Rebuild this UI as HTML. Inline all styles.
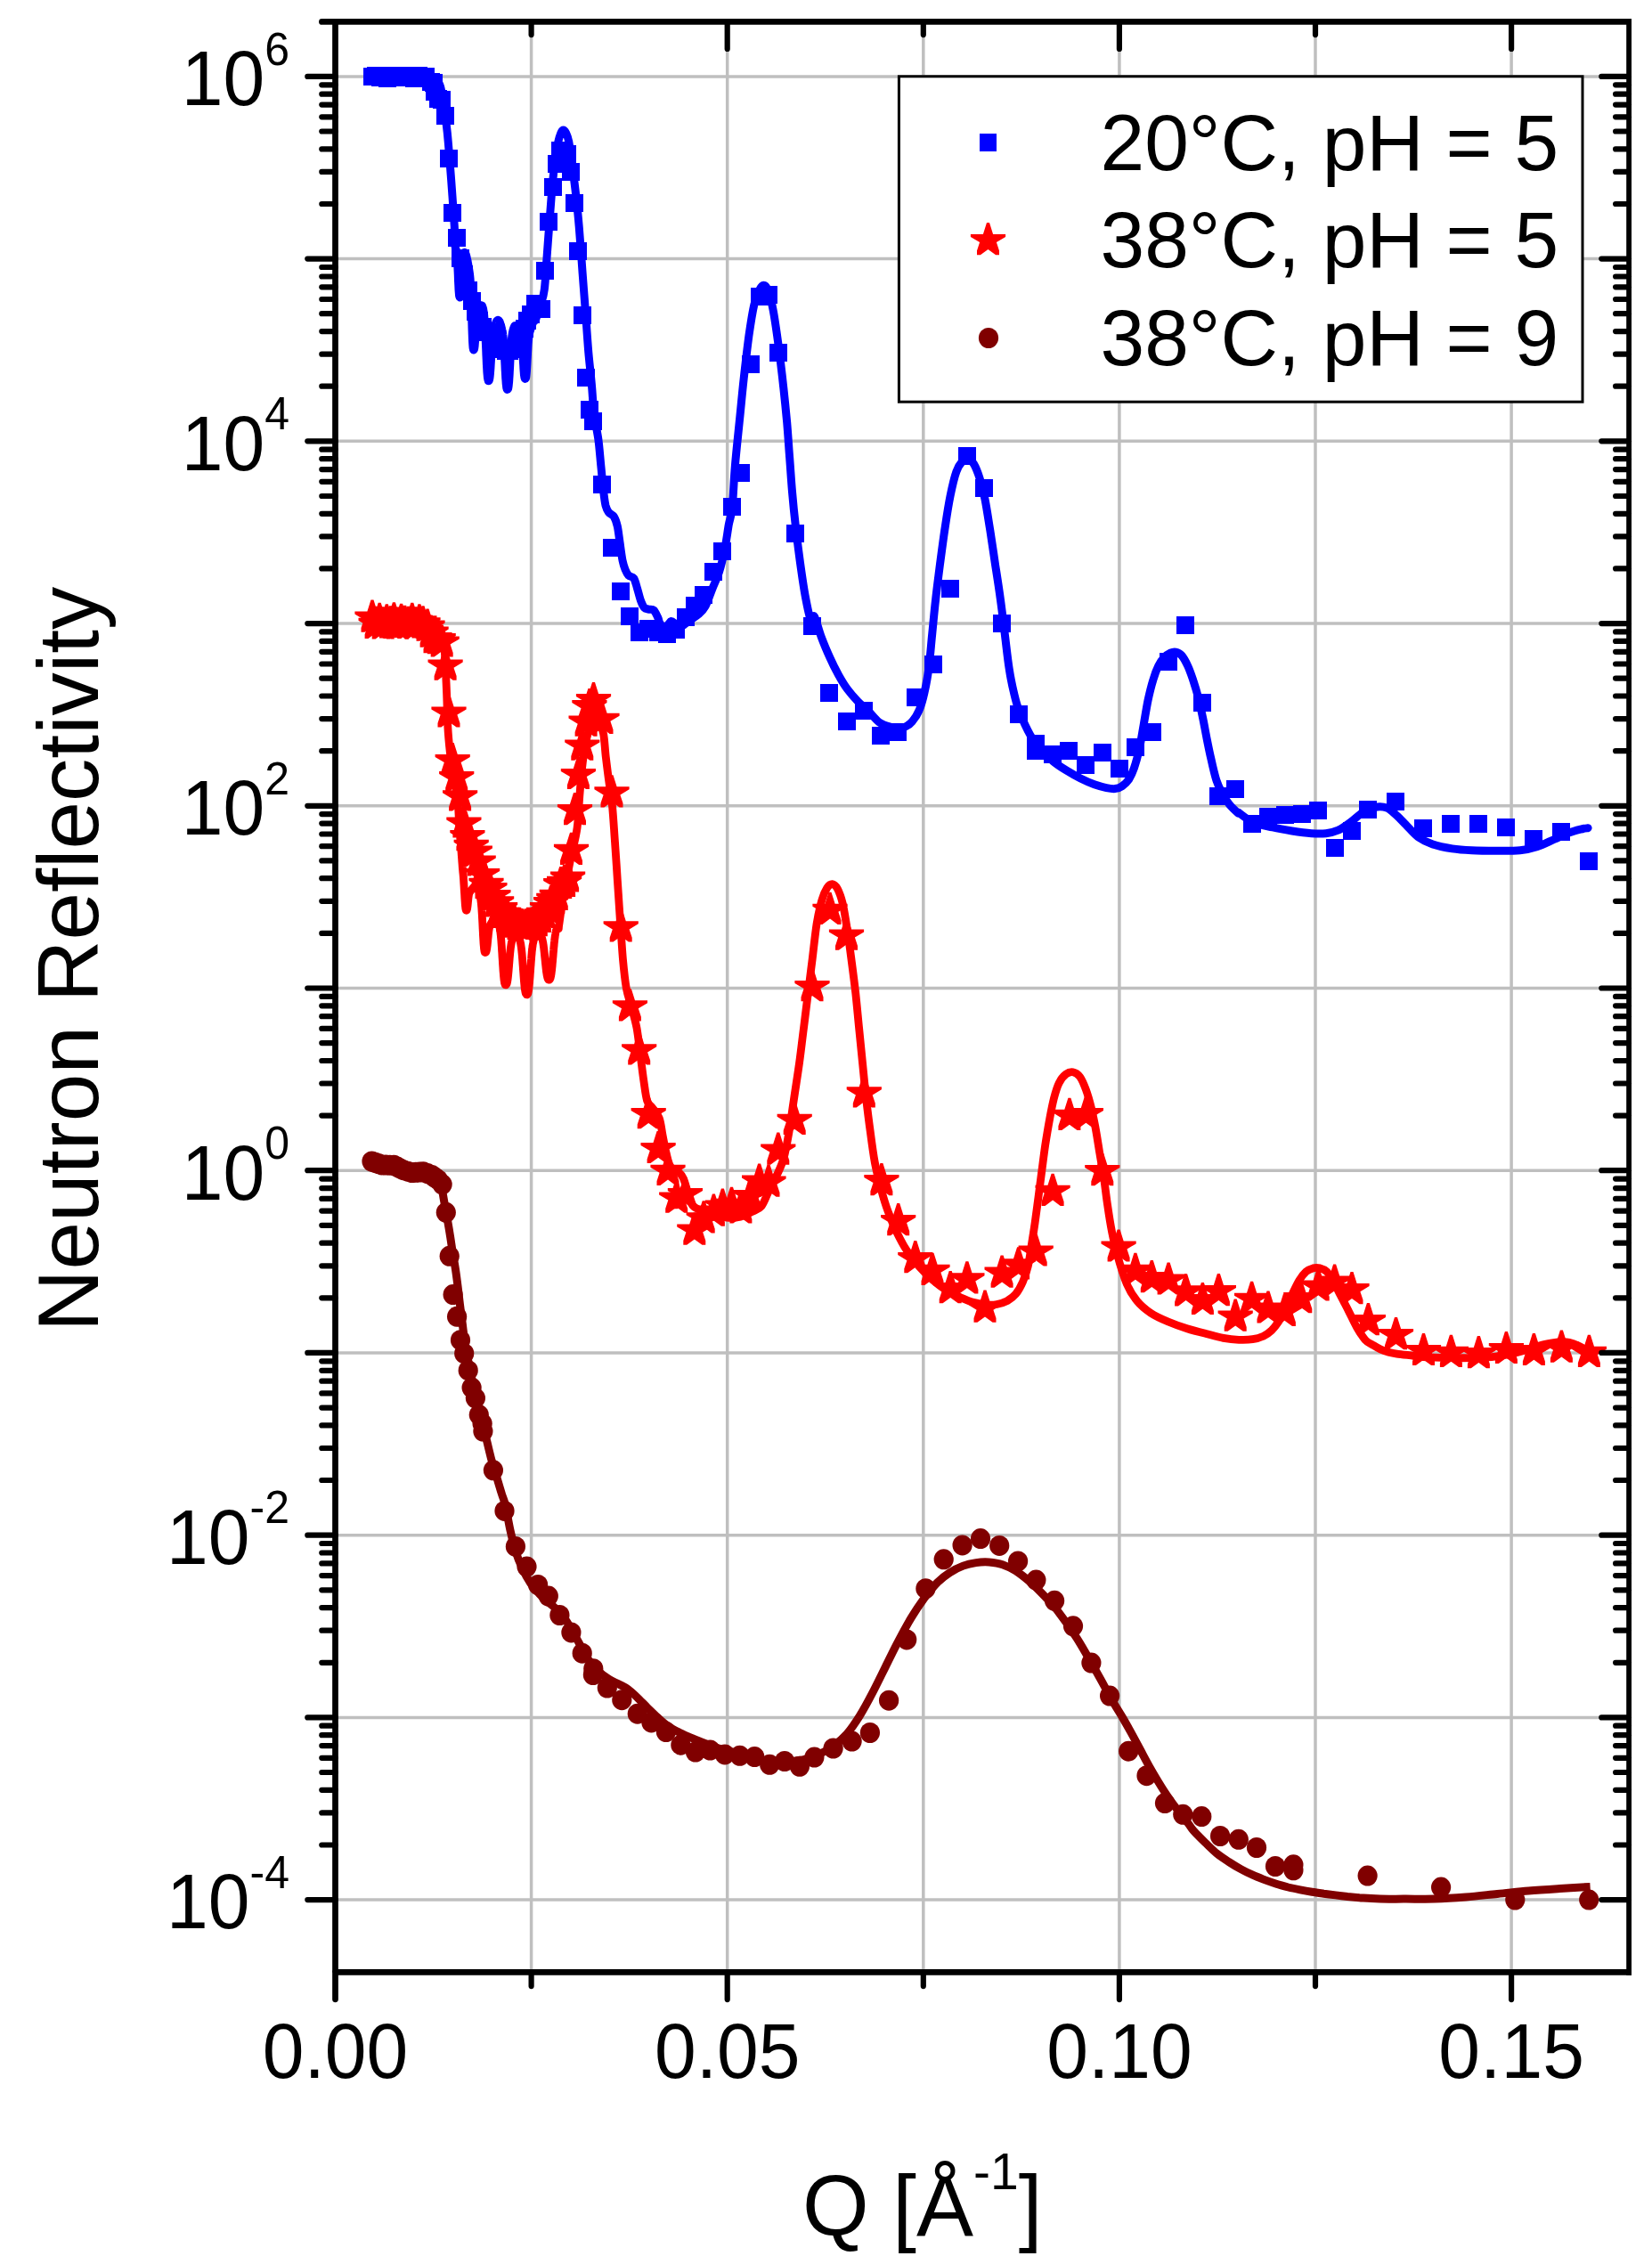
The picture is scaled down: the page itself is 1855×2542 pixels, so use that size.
<!DOCTYPE html>
<html lang="en"><head><meta charset="utf-8"><title>Neutron Reflectivity</title>
<style>html,body{margin:0;padding:0;background:#fff}body{width:1855px;height:2542px;overflow:hidden}svg{display:block}text{font-family:"Liberation Sans",Arial,Helvetica,sans-serif;fill:#000}</style></head><body>
<svg width="1855" height="2542" viewBox="0 0 1855 2542">
<rect width="1855" height="2542" fill="#fff"/>
<g stroke="#bfbfbf" stroke-width="3.5" fill="none">
<line x1="596.6" y1="24.4" x2="596.6" y2="2214.3"/>
<line x1="816.7" y1="24.4" x2="816.7" y2="2214.3"/>
<line x1="1036.8" y1="24.4" x2="1036.8" y2="2214.3"/>
<line x1="1256.9" y1="24.4" x2="1256.9" y2="2214.3"/>
<line x1="1477.0" y1="24.4" x2="1477.0" y2="2214.3"/>
<line x1="1697.1" y1="24.4" x2="1697.1" y2="2214.3"/>
<line x1="376.5" y1="85.9" x2="1829.0" y2="85.9"/>
<line x1="376.5" y1="290.6" x2="1829.0" y2="290.6"/>
<line x1="376.5" y1="495.3" x2="1829.0" y2="495.3"/>
<line x1="376.5" y1="700.1" x2="1829.0" y2="700.1"/>
<line x1="376.5" y1="904.8" x2="1829.0" y2="904.8"/>
<line x1="376.5" y1="1109.5" x2="1829.0" y2="1109.5"/>
<line x1="376.5" y1="1314.2" x2="1829.0" y2="1314.2"/>
<line x1="376.5" y1="1518.9" x2="1829.0" y2="1518.9"/>
<line x1="376.5" y1="1723.7" x2="1829.0" y2="1723.7"/>
<line x1="376.5" y1="1928.4" x2="1829.0" y2="1928.4"/>
<line x1="376.5" y1="2133.1" x2="1829.0" y2="2133.1"/>
</g>
<defs>
<rect id="sq" x="-10" y="-10" width="20" height="20" fill="#0000ff" shape-rendering="crispEdges"/>
<path id="st" d="M-1.5 -20.3L1.5 -20.3L5.6 -7.3L19.6 -7.3L19.6 -4.3L9.4 1.8L12.5 11.2L12.5 15.9L8.6 15.9L0.0 9.6L-8.6 15.9L-12.5 15.9L-12.5 11.2L-9.4 1.8L-19.6 -4.3L-19.6 -7.3L-5.6 -7.3Z" fill="#ff0000"/>
<ellipse id="ci" rx="11.1" ry="11.5" fill="#800000"/>
</defs>
<g>
<g><use href="#sq" x="418.0" y="86.3"/><use href="#sq" x="422.3" y="85.3"/><use href="#sq" x="426.6" y="87.3"/><use href="#sq" x="430.9" y="85.7"/><use href="#sq" x="435.2" y="87.5"/><use href="#sq" x="439.5" y="85.3"/><use href="#sq" x="443.8" y="87.1"/><use href="#sq" x="448.1" y="86.3"/><use href="#sq" x="452.4" y="85.3"/><use href="#sq" x="456.7" y="87.3"/><use href="#sq" x="461.0" y="85.7"/><use href="#sq" x="465.3" y="87.5"/><use href="#sq" x="469.6" y="85.3"/><use href="#sq" x="473.9" y="87.1"/><use href="#sq" x="478.2" y="86.3"/><use href="#sq" x="484.3" y="91.6"/><use href="#sq" x="487.3" y="92.5"/><use href="#sq" x="488.2" y="103.1"/><use href="#sq" x="492.3" y="111.1"/><use href="#sq" x="496.0" y="112.0"/><use href="#sq" x="500.1" y="129.7"/><use href="#sq" x="504.1" y="177.7"/><use href="#sq" x="508.1" y="238.9"/><use href="#sq" x="513.0" y="267.0"/><use href="#sq" x="517.0" y="289.7"/><use href="#sq" x="521.1" y="308.4"/><use href="#sq" x="525.5" y="326.1"/><use href="#sq" x="529.9" y="338.4"/><use href="#sq" x="534.0" y="349.8"/><use href="#sq" x="538.2" y="360.4"/><use href="#sq" x="542.4" y="367.4"/><use href="#sq" x="546.7" y="372.7"/><use href="#sq" x="550.9" y="378.9"/><use href="#sq" x="555.2" y="385.1"/><use href="#sq" x="559.4" y="389.0"/><use href="#sq" x="563.6" y="392.2"/><use href="#sq" x="567.9" y="393.6"/><use href="#sq" x="572.1" y="393.6"/><use href="#sq" x="576.4" y="392.2"/><use href="#sq" x="580.6" y="389.0"/><use href="#sq" x="584.8" y="380.7"/><use href="#sq" x="589.1" y="369.2"/><use href="#sq" x="592.3" y="360.4"/><use href="#sq" x="595.6" y="352.8"/><use href="#sq" x="600.6" y="341.4"/><use href="#sq" x="608.3" y="346.9"/><use href="#sq" x="612.2" y="303.5"/><use href="#sq" x="616.1" y="249.0"/><use href="#sq" x="621.1" y="210.0"/><use href="#sq" x="625.1" y="183.7"/><use href="#sq" x="629.4" y="169.0"/><use href="#sq" x="636.6" y="173.3"/><use href="#sq" x="640.8" y="193.0"/><use href="#sq" x="644.9" y="227.8"/><use href="#sq" x="649.0" y="282.1"/><use href="#sq" x="653.7" y="354.2"/><use href="#sq" x="657.8" y="424.0"/><use href="#sq" x="662.0" y="459.7"/><use href="#sq" x="666.0" y="473.3"/><use href="#sq" x="676.4" y="544.2"/><use href="#sq" x="686.8" y="615.0"/><use href="#sq" x="696.8" y="663.8"/><use href="#sq" x="707.0" y="692.0"/><use href="#sq" x="718.0" y="710.2"/><use href="#sq" x="728.0" y="706.1"/><use href="#sq" x="738.7" y="710.0"/><use href="#sq" x="749.4" y="711.5"/><use href="#sq" x="759.1" y="706.7"/><use href="#sq" x="769.9" y="692.7"/><use href="#sq" x="779.9" y="680.0"/><use href="#sq" x="790.3" y="667.7"/><use href="#sq" x="801.0" y="642.4"/><use href="#sq" x="811.4" y="619.0"/><use href="#sq" x="821.5" y="569.3"/><use href="#sq" x="832.2" y="530.6"/><use href="#sq" x="842.5" y="409.2"/><use href="#sq" x="852.6" y="333.4"/><use href="#sq" x="863.3" y="330.5"/><use href="#sq" x="873.6" y="396.0"/><use href="#sq" x="892.5" y="598.7"/><use href="#sq" x="911.5" y="702.7"/><use href="#sq" x="931.0" y="777.6"/><use href="#sq" x="951.0" y="809.5"/><use href="#sq" x="970.1" y="797.7"/><use href="#sq" x="989.4" y="825.7"/><use href="#sq" x="1007.8" y="821.8"/><use href="#sq" x="1028.2" y="783.3"/><use href="#sq" x="1047.7" y="746.0"/><use href="#sq" x="1066.5" y="660.9"/><use href="#sq" x="1085.9" y="511.9"/><use href="#sq" x="1105.0" y="547.8"/><use href="#sq" x="1125.0" y="700.4"/><use href="#sq" x="1143.8" y="801.7"/><use href="#sq" x="1163.1" y="835.1"/><use href="#sq" x="1163.1" y="842.9"/><use href="#sq" x="1181.8" y="846.7"/><use href="#sq" x="1200.2" y="842.9"/><use href="#sq" x="1219.1" y="859.4"/><use href="#sq" x="1237.9" y="844.8"/><use href="#sq" x="1256.6" y="862.9"/><use href="#sq" x="1275.4" y="839.0"/><use href="#sq" x="1294.3" y="821.9"/><use href="#sq" x="1312.2" y="742.8"/><use href="#sq" x="1331.0" y="702.0"/><use href="#sq" x="1349.7" y="788.8"/><use href="#sq" x="1368.3" y="893.8"/><use href="#sq" x="1387.0" y="885.5"/><use href="#sq" x="1406.0" y="925.1"/><use href="#sq" x="1423.8" y="916.6"/><use href="#sq" x="1443.2" y="914.5"/><use href="#sq" x="1461.7" y="913.9"/><use href="#sq" x="1480.2" y="910.1"/><use href="#sq" x="1499.0" y="951.5"/><use href="#sq" x="1517.6" y="933.0"/><use href="#sq" x="1535.8" y="909.0"/><use href="#sq" x="1566.6" y="899.5"/><use href="#sq" x="1597.9" y="930.3"/><use href="#sq" x="1628.7" y="924.8"/><use href="#sq" x="1660.0" y="924.8"/><use href="#sq" x="1690.5" y="928.9"/><use href="#sq" x="1721.9" y="941.7"/><use href="#sq" x="1753.2" y="933.8"/><use href="#sq" x="1784.0" y="967.0"/></g>
<path d="M418.0 86.0C421.7 86.0 433.0 86.0 440.0 86.0C447.0 86.0 453.7 86.0 460.0 86.0C466.3 86.0 473.7 85.8 478.0 86.0C482.3 86.2 483.8 86.3 486.0 87.0C488.2 87.7 489.6 88.3 491.0 90.0C492.4 91.7 493.5 93.7 494.5 97.0C495.5 100.3 495.7 101.4 497.0 110.0C498.3 118.6 500.6 133.1 502.2 148.3C503.8 163.6 505.2 183.7 506.6 201.3C507.9 219.0 509.6 242.8 510.3 254.3C510.8 265.9 510.6 266.7 510.8 270.6C510.9 274.5 511.1 276.6 511.3 278.0C511.4 279.4 511.6 278.7 511.8 279.2C511.9 279.6 512.1 280.0 512.3 280.7C512.4 281.4 512.6 282.0 512.8 283.4C512.9 284.7 513.1 286.4 513.3 288.8C513.4 291.1 513.6 294.1 513.8 297.4C513.9 300.8 514.1 305.0 514.3 308.8C514.4 312.6 514.6 317.0 514.8 320.3C514.9 323.6 515.1 326.6 515.3 328.7C515.4 330.8 515.6 332.0 515.8 332.9C515.9 333.8 516.1 333.9 516.3 334.0C516.5 334.1 516.8 334.0 517.0 333.3C517.2 332.7 517.3 331.9 517.5 330.3C517.6 328.8 517.8 326.6 518.0 324.0C518.1 321.4 518.3 318.0 518.5 314.8C518.6 311.5 518.8 307.7 519.0 304.5C519.1 301.2 519.3 298.0 519.5 295.5C519.6 293.0 519.8 291.0 520.0 289.4C520.1 287.8 520.3 286.7 520.5 285.9C520.6 285.0 520.8 284.5 521.0 284.0C521.1 283.6 521.3 283.4 521.5 283.4C521.7 283.3 521.9 283.4 522.1 283.5C522.3 283.7 522.4 283.9 522.6 284.2C522.8 284.5 522.9 284.9 523.1 285.3C523.3 285.7 523.4 286.3 523.6 286.8C523.8 287.4 523.9 288.0 524.1 288.7C524.3 289.4 524.4 290.1 524.6 290.9C524.8 291.6 524.9 292.5 525.1 293.3C525.3 294.2 525.4 295.1 525.6 296.0C525.8 296.9 525.9 297.9 526.1 298.8C526.3 299.8 526.4 300.8 526.6 301.8C526.8 302.8 526.9 303.7 527.1 304.9C527.3 306.0 527.4 307.0 527.6 308.5C527.8 310.0 527.9 311.5 528.1 313.9C528.3 316.3 528.4 319.2 528.6 323.0C528.8 326.9 528.9 331.8 529.1 337.1C529.3 342.4 529.4 348.8 529.6 354.6C529.8 360.3 529.9 366.6 530.1 371.5C530.3 376.4 530.4 380.8 530.6 384.0C530.8 387.2 530.9 389.2 531.1 390.7C531.3 392.1 531.4 392.4 531.6 392.7C531.8 393.0 532.1 392.9 532.3 392.5C532.5 392.1 532.7 391.6 532.8 390.5C533.0 389.4 533.2 387.9 533.3 385.9C533.5 384.0 533.7 381.4 533.8 378.8C534.0 376.2 534.2 373.1 534.3 370.4C534.5 367.7 534.7 364.9 534.8 362.7C535.0 360.5 535.2 358.6 535.3 357.1C535.5 355.6 535.7 354.6 535.8 353.6C536.0 352.7 536.2 352.0 536.3 351.4C536.5 350.7 536.7 350.2 536.8 349.7C537.0 349.1 537.2 348.7 537.3 348.2C537.5 347.7 537.7 347.2 537.8 346.8C538.0 346.3 538.2 345.9 538.3 345.5C538.5 345.2 538.7 344.8 538.8 344.5C539.0 344.2 539.2 343.9 539.3 343.7C539.5 343.4 539.7 343.2 539.8 343.1C540.0 342.9 540.2 342.8 540.3 342.7C540.5 342.7 540.5 342.6 540.7 342.7C540.8 342.7 541.0 342.8 541.2 343.0C541.3 343.2 541.5 343.5 541.7 343.8C541.8 344.2 542.0 344.7 542.2 345.3C542.3 345.9 542.5 346.5 542.7 347.3C542.8 348.2 543.0 349.1 543.2 350.2C543.3 351.4 543.5 352.7 543.7 354.4C543.8 356.1 544.0 358.1 544.2 360.5C544.3 363.0 544.5 365.8 544.7 369.0C544.8 372.3 545.0 376.0 545.2 379.9C545.3 383.7 545.5 388.0 545.7 392.0C545.8 396.0 546.0 400.2 546.2 403.8C546.3 407.5 546.5 411.0 546.7 413.9C546.8 416.8 547.0 419.2 547.2 421.1C547.3 423.1 547.5 424.4 547.7 425.4C547.8 426.5 548.0 426.9 548.2 427.3C548.3 427.7 548.5 427.7 548.6 427.7C548.8 427.7 549.0 427.7 549.1 427.4C549.3 427.1 549.5 426.8 549.6 426.0C549.8 425.3 550.0 424.3 550.1 422.8C550.3 421.4 550.5 419.5 550.6 417.4C550.8 415.2 551.0 412.6 551.1 409.8C551.3 407.1 551.5 404.0 551.6 401.0C551.8 398.1 552.0 394.9 552.1 392.1C552.3 389.4 552.5 386.6 552.6 384.4C552.8 382.1 553.0 380.1 553.1 378.4C553.3 376.6 553.5 375.3 553.6 374.1C553.8 372.9 554.0 372.0 554.1 371.2C554.3 370.3 554.5 369.6 554.6 369.0C554.8 368.3 555.0 367.7 555.1 367.1C555.3 366.6 555.5 366.0 555.6 365.5C555.8 365.0 556.0 364.5 556.1 364.0C556.3 363.5 556.5 363.1 556.6 362.7C556.8 362.3 557.0 361.9 557.1 361.5C557.3 361.2 557.5 360.9 557.6 360.6C557.8 360.3 558.0 360.1 558.1 359.9C558.3 359.7 558.5 359.6 558.6 359.5C558.8 359.4 558.9 359.3 559.1 359.3C559.3 359.3 559.5 359.3 559.7 359.4C559.9 359.5 560.1 359.7 560.2 359.9C560.4 360.1 560.6 360.3 560.7 360.6C560.9 360.9 561.1 361.2 561.2 361.6C561.4 362.0 561.6 362.4 561.7 362.9C561.9 363.3 562.1 363.8 562.2 364.3C562.4 364.9 562.6 365.4 562.7 366.0C562.9 366.6 563.1 367.2 563.2 367.9C563.4 368.5 563.6 369.2 563.7 369.9C563.9 370.6 564.1 371.4 564.2 372.3C564.4 373.2 564.6 374.2 564.7 375.4C564.9 376.7 565.1 378.1 565.2 379.9C565.4 381.8 565.6 383.9 565.7 386.4C565.9 388.8 566.1 391.8 566.2 394.9C566.4 398.0 566.6 401.5 566.7 404.9C566.9 408.2 567.1 411.9 567.2 415.1C567.4 418.3 567.6 421.5 567.7 424.1C567.9 426.7 568.1 429.0 568.2 430.8C568.4 432.6 568.6 433.9 568.7 435.0C568.9 436.0 569.1 436.5 569.2 436.9C569.4 437.3 569.5 437.4 569.7 437.4C569.9 437.4 570.1 437.4 570.3 437.0C570.5 436.7 570.7 436.3 570.8 435.4C571.0 434.5 571.2 433.4 571.3 431.8C571.5 430.1 571.7 428.1 571.8 425.7C572.0 423.2 572.2 420.3 572.3 417.3C572.5 414.3 572.7 410.8 572.8 407.5C573.0 404.2 573.2 400.7 573.3 397.6C573.5 394.5 573.7 391.5 573.8 389.0C574.0 386.4 574.2 384.1 574.3 382.2C574.5 380.3 574.7 378.7 574.8 377.4C575.0 376.0 575.2 375.0 575.3 374.0C575.5 373.0 575.7 372.3 575.8 371.5C576.0 370.8 576.2 370.2 576.3 369.6C576.5 369.0 576.7 368.5 576.8 368.1C577.0 367.6 577.2 367.2 577.3 366.9C577.5 366.5 577.7 366.2 577.8 366.0C578.0 365.8 578.2 365.7 578.3 365.6C578.5 365.5 578.5 365.5 578.7 365.5C578.8 365.5 579.0 365.5 579.2 365.6C579.3 365.7 579.5 365.8 579.7 365.9C579.8 366.0 580.0 366.2 580.2 366.4C580.3 366.6 580.5 366.8 580.7 367.1C580.8 367.4 581.0 367.7 581.2 368.0C581.3 368.3 581.5 368.6 581.7 369.0C581.8 369.4 582.0 369.8 582.2 370.2C582.3 370.6 582.5 371.0 582.7 371.5C582.8 371.9 583.0 372.4 583.2 372.9C583.3 373.3 583.5 373.8 583.7 374.3C583.8 374.8 584.0 375.3 584.2 375.8C584.3 376.3 584.5 376.8 584.7 377.3C584.8 377.9 585.0 378.4 585.2 379.2C585.3 379.9 585.5 380.6 585.7 381.8C585.8 382.9 586.0 384.3 586.2 386.1C586.3 387.9 586.5 390.1 586.7 392.6C586.8 395.1 587.0 398.1 587.2 401.0C587.3 403.9 587.5 407.2 587.7 409.9C587.8 412.7 588.0 415.4 588.2 417.5C588.3 419.5 588.5 421.2 588.7 422.4C588.8 423.6 589.0 424.3 589.2 424.8C589.3 425.3 589.5 425.3 589.7 425.4C589.8 425.4 590.1 425.4 590.3 425.0C590.5 424.6 590.6 424.2 590.8 423.1C591.0 422.0 591.1 420.5 591.3 418.4C591.5 416.4 591.6 413.7 591.8 410.8C592.0 407.9 592.1 404.4 592.3 401.2C592.5 398.0 592.6 394.5 592.8 391.6C593.0 388.6 593.1 385.9 593.3 383.8C593.5 381.6 593.6 379.9 593.8 378.5C594.0 377.1 594.1 376.2 594.3 375.3C594.5 374.5 594.6 373.9 594.8 373.3C595.0 372.6 595.1 372.1 595.3 371.6C595.5 371.1 595.6 370.5 595.8 370.0C596.0 369.5 596.1 369.0 596.3 368.5C596.5 368.0 596.6 367.5 596.8 367.0C597.0 366.5 597.1 366.0 597.3 365.5C597.5 365.0 597.6 364.6 597.8 364.1C598.0 363.7 598.1 363.3 598.3 362.9C598.5 362.5 598.6 362.1 598.8 361.7C599.0 361.4 599.1 361.1 599.3 360.8C599.5 360.5 599.6 360.2 599.8 359.9C600.0 359.7 600.1 359.5 600.3 359.3C600.5 359.1 600.6 359.0 600.8 358.9C601.0 358.8 601.1 358.7 601.3 358.6C601.4 358.6 601.3 361.2 601.6 358.6C602.6 355.9 605.3 348.3 606.9 342.7C608.5 337.1 610.2 333.9 611.3 325.0C612.5 316.2 613.1 301.5 614.0 289.7C614.9 277.9 615.8 266.1 616.6 254.3C617.5 242.6 618.3 230.8 619.3 219.0C620.3 207.2 621.6 193.7 622.8 183.7C624.1 173.7 625.7 164.7 626.9 158.9C628.1 153.2 629.0 151.4 629.9 149.2C630.8 147.1 631.6 146.0 632.5 146.0C633.5 146.0 634.5 147.1 635.5 149.2C636.6 151.4 637.6 153.2 638.7 158.9C639.8 164.7 640.9 173.7 642.3 183.7C643.6 193.7 645.4 207.2 646.7 219.0C648.0 230.8 649.2 242.6 650.2 254.3C651.2 266.1 652.0 277.9 652.9 289.7C653.7 301.5 654.6 313.2 655.5 325.0C656.4 336.8 657.3 348.6 658.2 360.4C659.0 372.1 659.8 383.9 660.8 395.7C661.8 407.5 663.3 419.5 664.3 431.0C665.4 442.5 665.8 454.1 667.0 464.6C668.3 475.0 670.6 484.0 671.9 493.7C673.2 503.4 673.8 513.2 674.8 522.9C675.8 532.6 676.8 544.6 677.7 552.0C678.6 559.5 679.1 563.7 680.0 567.6C681.0 571.4 682.0 573.2 683.5 575.3C685.1 577.4 687.8 577.6 689.4 580.2C691.0 582.8 692.1 585.8 693.3 590.9C694.4 595.9 695.2 603.8 696.2 610.3C697.1 616.8 698.1 624.9 699.1 629.7C700.1 634.6 700.9 636.7 702.0 639.4C703.1 642.2 704.3 644.6 705.9 646.2C707.5 647.9 710.1 646.7 711.7 649.2C713.3 651.6 714.3 656.6 715.6 660.8C716.9 665.0 718.2 670.9 719.5 674.4C720.8 678.0 721.9 680.6 723.4 682.2C724.8 683.8 726.5 683.6 728.2 684.1C730.0 684.6 732.3 683.5 734.1 685.1C735.8 686.7 737.8 691.5 738.9 693.8C740.0 696.1 739.5 697.0 740.6 698.9C741.7 700.8 744.0 704.8 745.5 705.3C747.0 705.8 748.4 703.2 749.8 701.8C751.1 700.5 752.3 697.6 753.6 697.4C755.0 697.1 756.6 699.1 758.1 700.3C759.7 701.4 761.2 704.1 763.0 704.2C764.8 704.3 766.7 702.3 768.8 700.9C770.9 699.4 773.0 697.5 775.6 695.6C778.2 693.8 781.6 692.3 784.3 689.8C787.1 687.3 789.5 685.3 792.1 680.5C794.7 675.7 797.3 667.5 799.9 661.0C802.5 654.6 805.4 648.7 807.7 641.6C809.9 634.5 811.7 627.0 813.5 618.3C815.3 609.5 816.9 597.2 818.3 589.1C819.8 581.0 821.1 580.8 822.2 569.7C823.4 558.7 824.0 538.8 825.4 522.9C826.7 507.0 828.6 490.5 830.2 474.3C831.9 458.1 833.3 441.9 835.1 425.7C836.9 409.5 839.0 391.1 840.9 377.1C842.9 363.2 844.8 350.8 846.8 342.2C848.7 333.6 850.8 329.3 852.6 325.7C854.4 322.0 855.8 320.2 857.4 320.2C859.1 320.2 860.5 321.0 862.3 325.7C864.1 330.3 866.2 337.8 868.1 348.0C870.1 358.2 872.0 372.3 874.0 386.9C875.9 401.4 878.2 420.9 879.8 435.4C881.4 450.0 882.5 461.3 883.7 474.3C884.8 487.2 885.6 500.2 886.6 513.2C887.6 526.1 888.4 539.1 889.5 552.0C890.6 565.0 891.9 577.9 893.4 590.9C894.8 603.8 896.5 616.8 898.2 629.7C900.0 642.7 902.0 657.3 904.1 668.6C906.2 679.9 909.1 693.8 910.9 697.7C912.6 701.7 912.6 689.2 914.5 692.1C916.4 695.1 919.4 707.7 922.3 715.4C925.2 723.2 928.8 731.6 932.0 738.7C935.2 745.9 938.5 752.3 941.7 758.2C945.0 764.0 947.9 768.9 951.4 773.7C955.0 778.6 959.2 783.3 963.1 787.3C967.0 791.4 970.7 794.0 974.8 798.0C978.8 802.0 983.1 808.0 987.4 811.1C991.8 814.2 997.5 815.5 1001.0 816.5C1004.6 817.6 1006.2 817.4 1008.8 817.3C1011.4 817.2 1014.0 817.2 1016.6 816.0C1019.2 814.8 1021.8 813.2 1024.3 810.1C1026.9 807.1 1029.9 802.8 1032.1 797.5C1034.4 792.2 1036.2 785.8 1037.9 778.1C1039.7 770.3 1041.3 761.9 1042.8 750.9C1044.3 739.9 1045.4 725.0 1046.7 712.0C1048.0 699.1 1049.1 686.1 1050.6 673.2C1052.0 660.2 1053.7 647.9 1055.4 634.3C1057.2 620.7 1059.3 604.5 1061.3 591.5C1063.2 578.6 1065.0 566.9 1067.1 556.6C1069.2 546.2 1071.6 535.9 1073.9 529.4C1076.2 522.9 1078.6 520.1 1080.7 517.7C1082.8 515.3 1084.4 514.3 1086.5 514.8C1088.6 515.3 1091.1 516.9 1093.3 520.6C1095.6 524.4 1098.0 530.5 1100.1 537.1C1102.2 543.8 1104.0 550.7 1106.0 560.5C1107.9 570.2 1109.8 583.1 1111.8 595.4C1113.7 607.7 1115.7 621.3 1117.6 634.3C1119.6 647.2 1121.7 660.2 1123.4 673.2C1125.2 686.1 1126.7 699.1 1128.3 712.0C1129.9 725.0 1131.4 739.5 1133.2 750.9C1134.9 762.2 1137.0 771.9 1139.0 780.0C1140.9 788.1 1141.8 791.9 1144.8 799.4C1147.8 807.0 1153.0 818.5 1156.9 825.4C1160.9 832.3 1164.4 836.1 1168.6 840.9C1172.8 845.8 1177.3 850.5 1182.2 854.5C1187.0 858.6 1192.5 862.0 1197.7 865.2C1202.9 868.4 1208.1 871.4 1213.3 874.0C1218.4 876.5 1223.9 879.0 1228.8 880.8C1233.7 882.5 1238.5 883.8 1242.4 884.6C1246.3 885.4 1249.2 885.9 1252.1 885.6C1255.0 885.3 1257.3 884.5 1259.9 882.7C1262.5 880.9 1265.4 878.3 1267.7 874.9C1269.9 871.5 1271.5 868.0 1273.5 862.3C1275.4 856.6 1277.5 849.0 1279.3 840.9C1281.1 832.8 1282.6 822.8 1284.2 813.7C1285.8 804.7 1287.3 794.9 1289.0 786.5C1290.8 778.1 1292.9 769.7 1294.9 763.2C1296.8 756.7 1298.6 751.9 1300.7 747.7C1302.8 743.5 1305.2 740.4 1307.5 737.9C1309.8 735.5 1312.2 734.1 1314.3 733.1C1316.4 732.1 1318.0 731.6 1320.1 732.1C1322.2 732.6 1324.7 733.4 1326.9 736.0C1329.2 738.6 1331.6 743.1 1333.7 747.7C1335.8 752.2 1337.6 757.4 1339.6 763.2C1341.5 769.0 1343.6 775.8 1345.4 782.6C1347.2 789.4 1348.6 796.2 1350.2 804.0C1351.9 811.8 1353.5 821.2 1355.1 829.3C1356.7 837.4 1358.2 844.8 1360.0 852.6C1361.7 860.4 1363.7 869.4 1365.8 875.9C1367.9 882.4 1370.2 886.9 1372.6 891.4C1375.0 896.0 1377.4 899.5 1380.4 903.1C1383.3 906.7 1388.3 911.2 1390.1 912.8C1390.9 914.4 1390.1 910.8 1390.9 912.5C1393.8 914.3 1400.9 920.7 1407.2 923.4C1413.6 926.2 1421.8 927.3 1429.0 928.9C1436.3 930.5 1443.6 931.8 1450.8 933.0C1458.1 934.1 1466.3 935.2 1472.6 935.7C1479.0 936.2 1484.0 936.3 1489.0 935.7C1494.0 935.1 1498.0 934.2 1502.6 932.2C1507.1 930.1 1511.7 926.7 1516.2 923.4C1520.7 920.2 1525.3 915.4 1529.8 912.5C1534.4 909.7 1538.9 907.5 1543.4 906.5C1548.0 905.6 1553.0 905.6 1557.1 907.1C1561.1 908.5 1564.3 912.1 1568.0 915.3C1571.6 918.4 1574.8 922.1 1578.8 926.2C1582.9 930.2 1587.5 936.2 1592.5 939.8C1597.5 943.4 1602.5 945.8 1608.8 948.0C1615.2 950.1 1623.3 951.7 1630.6 952.9C1637.9 954.0 1644.2 954.4 1652.4 954.8C1660.6 955.2 1670.6 955.3 1679.6 955.3C1688.7 955.3 1699.2 955.5 1706.9 954.8C1714.6 954.0 1719.6 952.7 1725.9 950.7C1732.3 948.6 1739.1 945.1 1745.0 942.5C1750.9 939.9 1756.4 937.1 1761.4 935.2C1766.3 933.2 1771.3 932.0 1775.0 931.1C1778.6 930.2 1781.8 929.9 1783.1 929.7" fill="none" stroke="#0000ff" stroke-width="9.0" stroke-linejoin="round" stroke-linecap="round"/>
</g>
<g>
<g><use href="#st" x="418.0" y="693.9"/><use href="#st" x="422.1" y="701.0"/><use href="#st" x="426.2" y="697.0"/><use href="#st" x="430.2" y="701.5"/><use href="#st" x="434.3" y="698.5"/><use href="#st" x="438.4" y="700.5"/><use href="#st" x="442.4" y="696.5"/><use href="#st" x="446.5" y="701.7"/><use href="#st" x="450.6" y="698.0"/><use href="#st" x="454.7" y="700.0"/><use href="#st" x="458.7" y="701.0"/><use href="#st" x="462.8" y="697.0"/><use href="#st" x="466.9" y="701.5"/><use href="#st" x="470.9" y="698.5"/><use href="#st" x="475.0" y="700.5"/><use href="#st" x="480.0" y="703.9"/><use href="#st" x="484.1" y="710.9"/><use href="#st" x="488.0" y="717.4"/><use href="#st" x="492.2" y="718.4"/><use href="#st" x="496.2" y="721.7"/><use href="#st" x="500.1" y="747.9"/><use href="#st" x="504.0" y="800.7"/><use href="#st" x="508.2" y="854.2"/><use href="#st" x="512.7" y="873.2"/><use href="#st" x="516.6" y="894.6"/><use href="#st" x="520.9" y="924.7"/><use href="#st" x="524.9" y="939.3"/><use href="#st" x="529.2" y="950.1"/><use href="#st" x="533.3" y="956.8"/><use href="#st" x="537.2" y="967.7"/><use href="#st" x="541.6" y="982.2"/><use href="#st" x="546.0" y="993.1"/><use href="#st" x="549.9" y="998.2"/><use href="#st" x="553.9" y="1006.2"/><use href="#st" x="557.6" y="1013.5"/><use href="#st" x="561.6" y="1020.2"/><use href="#st" x="565.7" y="1026.0"/><use href="#st" x="569.8" y="1030.3"/><use href="#st" x="573.8" y="1034.0"/><use href="#st" x="577.9" y="1036.9"/><use href="#st" x="582.0" y="1039.0"/><use href="#st" x="586.1" y="1040.2"/><use href="#st" x="590.1" y="1040.5"/><use href="#st" x="594.2" y="1039.8"/><use href="#st" x="598.3" y="1038.3"/><use href="#st" x="602.3" y="1035.4"/><use href="#st" x="606.4" y="1031.1"/><use href="#st" x="610.5" y="1026.0"/><use href="#st" x="614.5" y="1020.2"/><use href="#st" x="618.6" y="1014.3"/><use href="#st" x="621.8" y="1010.0"/><use href="#st" x="625.3" y="1006.1"/><use href="#st" x="629.7" y="993.2"/><use href="#st" x="633.6" y="991.0"/><use href="#st" x="637.6" y="985.7"/><use href="#st" x="641.5" y="955.1"/><use href="#st" x="645.5" y="910.3"/><use href="#st" x="649.4" y="870.2"/><use href="#st" x="653.8" y="837.8"/><use href="#st" x="658.1" y="810.9"/><use href="#st" x="661.9" y="793.4"/><use href="#st" x="666.5" y="786.4"/><use href="#st" x="676.0" y="808.0"/><use href="#st" x="687.0" y="890.6"/><use href="#st" x="697.2" y="1041.6"/><use href="#st" x="707.4" y="1130.5"/><use href="#st" x="717.7" y="1179.6"/><use href="#st" x="728.2" y="1251.3"/><use href="#st" x="739.1" y="1290.2"/><use href="#st" x="750.0" y="1315.0"/><use href="#st" x="759.7" y="1345.8"/><use href="#st" x="769.4" y="1341.3"/><use href="#st" x="779.8" y="1381.8"/><use href="#st" x="790.2" y="1368.5"/><use href="#st" x="801.4" y="1360.8"/><use href="#st" x="811.4" y="1354.8"/><use href="#st" x="821.5" y="1353.0"/><use href="#st" x="831.9" y="1357.7"/><use href="#st" x="842.3" y="1343.2"/><use href="#st" x="852.6" y="1326.9"/><use href="#st" x="863.0" y="1327.9"/><use href="#st" x="873.8" y="1291.8"/><use href="#st" x="892.2" y="1258.1"/><use href="#st" x="912.0" y="1108.3"/><use href="#st" x="932.0" y="1022.0"/><use href="#st" x="950.5" y="1050.8"/><use href="#st" x="970.3" y="1227.6"/><use href="#st" x="989.9" y="1326.3"/><use href="#st" x="1008.7" y="1371.3"/><use href="#st" x="1027.8" y="1413.4"/><use href="#st" x="1047.0" y="1427.0"/><use href="#st" x="1067.2" y="1447.4"/><use href="#st" x="1085.9" y="1436.6"/><use href="#st" x="1106.0" y="1468.9"/><use href="#st" x="1125.1" y="1429.9"/><use href="#st" x="1143.6" y="1420.6"/><use href="#st" x="1163.2" y="1405.7"/><use href="#st" x="1182.1" y="1338.0"/><use href="#st" x="1200.9" y="1253.1"/><use href="#st" x="1219.4" y="1251.2"/><use href="#st" x="1237.8" y="1315.3"/><use href="#st" x="1256.1" y="1400.7"/><use href="#st" x="1274.9" y="1427.1"/><use href="#st" x="1293.3" y="1435.4"/><use href="#st" x="1312.1" y="1437.7"/><use href="#st" x="1331.6" y="1450.5"/><use href="#st" x="1350.4" y="1460.2"/><use href="#st" x="1368.4" y="1450.3"/><use href="#st" x="1387.2" y="1478.8"/><use href="#st" x="1405.6" y="1459.0"/><use href="#st" x="1424.0" y="1469.7"/><use href="#st" x="1442.4" y="1473.2"/><use href="#st" x="1460.8" y="1458.3"/><use href="#st" x="1480.2" y="1444.7"/><use href="#st" x="1498.6" y="1439.7"/><use href="#st" x="1518.0" y="1448.4"/><use href="#st" x="1536.4" y="1483.3"/><use href="#st" x="1567.5" y="1499.3"/><use href="#st" x="1598.5" y="1517.2"/><use href="#st" x="1629.4" y="1519.1"/><use href="#st" x="1660.4" y="1520.4"/><use href="#st" x="1691.4" y="1515.2"/><use href="#st" x="1722.4" y="1517.2"/><use href="#st" x="1753.4" y="1513.9"/><use href="#st" x="1784.4" y="1519.1"/></g>
<path d="M418.0 699.8C421.7 699.8 433.0 699.8 440.0 699.8C447.0 699.8 453.7 699.8 460.0 699.8C466.3 699.8 473.5 699.7 478.0 700.0C482.5 700.3 484.5 700.5 487.0 701.5C489.5 702.5 491.3 703.6 493.0 706.0C494.7 708.4 495.9 711.2 497.0 716.0C498.1 720.8 498.8 724.9 499.5 735.0C500.2 745.1 500.9 763.2 501.5 776.6C502.1 790.0 502.2 804.1 502.8 815.4C503.4 826.7 504.3 835.5 505.3 844.6C506.3 853.7 507.6 861.9 509.0 870.0C510.4 878.1 512.3 882.7 513.5 893.0C514.7 903.3 515.4 923.0 516.0 932.0C516.6 941.0 517.0 943.5 517.3 947.2C517.6 950.8 517.7 951.6 517.8 953.8C518.0 956.1 518.2 958.3 518.3 960.5C518.5 962.7 518.7 964.9 518.8 967.2C519.0 969.4 519.2 971.8 519.3 973.8C519.5 975.9 519.7 977.5 519.8 979.3C520.0 981.1 520.2 982.5 520.3 984.6C520.5 986.6 520.7 989.1 520.8 991.7C521.0 994.3 521.2 997.2 521.3 1000.0C521.5 1002.7 521.7 1005.6 521.8 1008.2C522.0 1010.8 522.2 1013.6 522.3 1015.6C522.5 1017.6 522.7 1019.1 522.8 1020.2C523.0 1021.2 523.1 1021.7 523.3 1022.0C523.5 1022.3 523.9 1022.4 524.1 1022.1C524.3 1021.9 524.4 1021.4 524.6 1020.5C524.8 1019.6 524.9 1018.3 525.1 1016.8C525.3 1015.4 525.4 1013.4 525.6 1011.7C525.8 1010.1 525.9 1008.3 526.1 1007.0C526.3 1005.8 526.4 1004.8 526.6 1004.0C526.8 1003.3 526.9 1002.9 527.1 1002.5C527.3 1002.1 527.4 1001.9 527.6 1001.6C527.8 1001.4 527.9 1001.2 528.1 1000.9C528.3 1000.7 528.4 1000.5 528.6 1000.2C528.8 1000.0 528.9 999.7 529.1 999.5C529.3 999.3 529.4 999.0 529.6 998.8C529.8 998.6 529.9 998.3 530.1 998.1C530.3 997.9 530.4 997.7 530.6 997.5C530.8 997.3 530.9 997.1 531.1 996.9C531.3 996.7 531.4 996.5 531.6 996.4C531.8 996.2 531.9 996.0 532.1 995.9C532.3 995.8 532.4 995.7 532.6 995.6C532.8 995.5 532.9 995.4 533.1 995.3C533.3 995.2 533.4 995.2 533.6 995.2C533.7 995.1 533.9 995.1 534.0 995.1C534.2 995.1 534.4 995.2 534.5 995.2C534.7 995.3 534.9 995.5 535.0 995.6C535.2 995.8 535.4 996.0 535.5 996.3C535.7 996.6 535.9 996.9 536.0 997.2C536.2 997.6 536.4 997.9 536.5 998.4C536.7 998.8 536.9 999.2 537.0 999.7C537.2 1000.2 537.4 1000.7 537.5 1001.2C537.7 1001.7 537.9 1002.3 538.0 1002.9C538.2 1003.4 538.4 1004.0 538.5 1004.7C538.7 1005.3 538.9 1005.9 539.0 1006.6C539.2 1007.3 539.4 1008.0 539.5 1008.9C539.7 1009.8 539.9 1010.7 540.0 1011.9C540.2 1013.2 540.4 1014.6 540.5 1016.4C540.7 1018.2 540.9 1020.3 541.0 1022.8C541.2 1025.3 541.4 1028.3 541.5 1031.3C541.7 1034.4 541.9 1037.9 542.0 1041.2C542.2 1044.5 542.4 1048.0 542.5 1051.0C542.7 1054.0 542.9 1056.9 543.0 1059.2C543.2 1061.5 543.4 1063.5 543.5 1065.0C543.7 1066.5 543.9 1067.5 544.0 1068.2C544.2 1069.0 544.4 1069.2 544.5 1069.5C544.7 1069.7 544.8 1069.6 544.9 1069.6C545.1 1069.6 545.3 1069.6 545.4 1069.5C545.6 1069.3 545.8 1069.1 545.9 1068.7C546.1 1068.2 546.3 1067.6 546.4 1066.8C546.6 1065.9 546.8 1064.9 546.9 1063.6C547.1 1062.3 547.3 1060.8 547.4 1059.2C547.6 1057.6 547.8 1055.8 547.9 1054.1C548.1 1052.5 548.3 1050.7 548.4 1049.2C548.6 1047.7 548.8 1046.3 548.9 1045.1C549.1 1043.9 549.3 1042.9 549.4 1042.1C549.6 1041.3 549.8 1040.6 549.9 1040.1C550.1 1039.5 550.3 1039.1 550.4 1038.6C550.6 1038.2 550.8 1037.9 550.9 1037.6C551.1 1037.2 551.3 1036.9 551.4 1036.6C551.6 1036.3 551.8 1036.0 551.9 1035.7C552.1 1035.4 552.3 1035.1 552.4 1034.9C552.6 1034.6 552.8 1034.3 552.9 1034.1C553.1 1033.8 553.3 1033.6 553.4 1033.4C553.6 1033.2 553.8 1033.0 553.9 1032.8C554.1 1032.6 554.3 1032.4 554.4 1032.3C554.6 1032.1 554.8 1032.0 554.9 1031.9C555.1 1031.8 555.3 1031.7 555.4 1031.6C555.6 1031.5 555.8 1031.5 555.9 1031.5C556.1 1031.4 556.1 1031.4 556.3 1031.4C556.4 1031.4 556.6 1031.5 556.8 1031.5C556.9 1031.6 557.1 1031.7 557.3 1031.9C557.4 1032.1 557.6 1032.3 557.8 1032.5C557.9 1032.7 558.1 1033.0 558.3 1033.3C558.4 1033.6 558.6 1033.9 558.8 1034.3C558.9 1034.7 559.1 1035.1 559.3 1035.5C559.4 1035.9 559.6 1036.4 559.8 1036.9C559.9 1037.4 560.1 1037.9 560.3 1038.5C560.4 1039.1 560.6 1039.7 560.8 1040.4C560.9 1041.2 561.1 1041.9 561.3 1042.9C561.4 1043.8 561.6 1044.8 561.8 1046.0C561.9 1047.3 562.1 1048.6 562.3 1050.3C562.4 1051.9 562.6 1053.7 562.8 1055.8C562.9 1057.8 563.1 1060.1 563.3 1062.5C563.4 1064.9 563.6 1067.6 563.8 1070.2C563.9 1072.9 564.1 1075.7 564.3 1078.3C564.4 1081.0 564.6 1083.7 564.8 1086.1C564.9 1088.6 565.1 1090.9 565.3 1092.9C565.4 1095.0 565.6 1096.8 565.8 1098.4C565.9 1099.9 566.1 1101.2 566.3 1102.2C566.4 1103.2 566.6 1103.9 566.8 1104.5C566.9 1105.1 567.1 1105.4 567.3 1105.6C567.4 1105.9 567.6 1105.9 567.8 1105.9C568.0 1106.0 568.2 1105.9 568.4 1105.8C568.6 1105.7 568.7 1105.5 568.9 1105.1C569.1 1104.8 569.2 1104.3 569.4 1103.6C569.6 1102.9 569.7 1102.0 569.9 1101.0C570.1 1099.9 570.2 1098.6 570.4 1097.1C570.6 1095.6 570.7 1093.9 570.9 1092.1C571.1 1090.3 571.2 1088.3 571.4 1086.3C571.6 1084.3 571.7 1082.1 571.9 1080.1C572.1 1078.0 572.2 1076.0 572.4 1074.1C572.6 1072.2 572.7 1070.3 572.9 1068.7C573.1 1067.0 573.2 1065.5 573.4 1064.2C573.6 1062.9 573.7 1061.8 573.9 1060.8C574.1 1059.8 574.2 1058.9 574.4 1058.2C574.6 1057.4 574.7 1056.8 574.9 1056.2C575.1 1055.6 575.2 1055.1 575.4 1054.6C575.6 1054.2 575.7 1053.7 575.9 1053.3C576.1 1052.9 576.2 1052.6 576.4 1052.2C576.6 1051.9 576.7 1051.6 576.9 1051.3C577.1 1051.0 577.2 1050.7 577.4 1050.5C577.6 1050.2 577.7 1050.0 577.9 1049.8C578.1 1049.6 578.2 1049.5 578.4 1049.3C578.6 1049.2 578.7 1049.1 578.9 1049.0C579.1 1048.9 579.2 1048.9 579.4 1048.9C579.6 1048.9 579.8 1048.9 580.0 1049.0C580.2 1049.0 580.3 1049.1 580.5 1049.3C580.7 1049.4 580.8 1049.6 581.0 1049.8C581.2 1050.0 581.3 1050.2 581.5 1050.4C581.7 1050.7 581.8 1051.0 582.0 1051.3C582.2 1051.6 582.3 1052.0 582.5 1052.3C582.7 1052.7 582.8 1053.1 583.0 1053.6C583.2 1054.0 583.3 1054.5 583.5 1055.0C583.7 1055.5 583.8 1056.1 584.0 1056.7C584.2 1057.4 584.3 1058.1 584.5 1058.9C584.7 1059.7 584.8 1060.6 585.0 1061.7C585.2 1062.8 585.3 1064.0 585.5 1065.4C585.7 1066.8 585.8 1068.3 586.0 1070.1C586.2 1071.8 586.3 1073.7 586.5 1075.8C586.7 1077.8 586.8 1080.0 587.0 1082.3C587.2 1084.5 587.3 1086.9 587.5 1089.2C587.7 1091.5 587.8 1093.8 588.0 1096.0C588.2 1098.2 588.3 1100.3 588.5 1102.2C588.7 1104.1 588.8 1105.9 589.0 1107.5C589.2 1109.0 589.3 1110.3 589.5 1111.5C589.7 1112.6 589.8 1113.5 590.0 1114.2C590.2 1115.0 590.3 1115.5 590.5 1115.9C590.7 1116.3 590.8 1116.5 591.0 1116.6C591.2 1116.8 591.3 1116.8 591.5 1116.9C591.7 1116.9 591.9 1116.8 592.1 1116.7C592.3 1116.6 592.4 1116.4 592.6 1116.0C592.7 1115.7 592.9 1115.2 593.1 1114.5C593.2 1113.8 593.4 1113.0 593.6 1111.9C593.7 1110.8 593.9 1109.5 594.1 1108.0C594.2 1106.5 594.4 1104.8 594.6 1102.9C594.7 1101.0 594.9 1098.9 595.1 1096.7C595.2 1094.6 595.4 1092.2 595.6 1089.9C595.7 1087.6 595.9 1085.2 596.1 1082.9C596.2 1080.7 596.4 1078.4 596.6 1076.3C596.7 1074.2 596.9 1072.3 597.1 1070.5C597.2 1068.7 597.4 1067.1 597.6 1065.7C597.7 1064.2 597.9 1063.0 598.1 1061.9C598.2 1060.7 598.4 1059.8 598.6 1058.9C598.7 1058.1 598.9 1057.4 599.1 1056.7C599.2 1056.0 599.4 1055.4 599.6 1054.9C599.7 1054.3 599.9 1053.9 600.1 1053.4C600.2 1052.9 600.4 1052.5 600.6 1052.1C600.7 1051.7 600.9 1051.3 601.1 1050.9C601.2 1050.6 601.4 1050.2 601.6 1049.9C601.7 1049.6 601.9 1049.3 602.1 1049.1C602.2 1048.8 602.4 1048.6 602.6 1048.4C602.7 1048.2 602.9 1048.0 603.1 1047.9C603.2 1047.8 603.4 1047.6 603.6 1047.6C603.7 1047.5 603.9 1047.4 604.1 1047.4C604.3 1047.4 604.5 1047.4 604.7 1047.5C604.9 1047.5 605.0 1047.6 605.2 1047.7C605.4 1047.8 605.5 1047.9 605.7 1048.1C605.9 1048.2 606.0 1048.4 606.2 1048.6C606.4 1048.8 606.5 1049.0 606.7 1049.2C606.9 1049.5 607.0 1049.7 607.2 1050.0C607.4 1050.3 607.5 1050.6 607.7 1051.0C607.9 1051.4 608.0 1051.8 608.2 1052.2C608.4 1052.6 608.5 1053.1 608.7 1053.7C608.9 1054.3 609.0 1054.9 609.2 1055.6C609.4 1056.3 609.5 1057.1 609.7 1058.0C609.9 1059.0 610.0 1060.0 610.2 1061.1C610.4 1062.3 610.5 1063.5 610.7 1064.9C610.9 1066.2 611.0 1067.7 611.2 1069.3C611.4 1070.8 611.5 1072.5 611.7 1074.1C611.9 1075.7 612.0 1077.5 612.2 1079.1C612.4 1080.8 612.5 1082.4 612.7 1084.0C612.9 1085.6 613.0 1087.1 613.2 1088.5C613.4 1089.9 613.5 1091.2 613.7 1092.3C613.9 1093.4 614.0 1094.5 614.2 1095.3C614.4 1096.2 614.5 1096.9 614.7 1097.5C614.9 1098.1 615.0 1098.6 615.2 1099.0C615.4 1099.3 615.5 1099.6 615.7 1099.8C615.9 1100.0 616.1 1100.0 616.2 1100.1C616.4 1100.2 616.4 1100.2 616.6 1100.1C616.7 1100.1 616.9 1100.1 617.1 1100.0C617.2 1099.9 617.4 1099.7 617.6 1099.4C617.7 1099.1 617.9 1098.7 618.1 1098.2C618.2 1097.6 618.4 1097.0 618.6 1096.1C618.7 1095.3 618.9 1094.3 619.1 1093.2C619.2 1092.0 619.4 1090.7 619.6 1089.2C619.7 1087.8 619.9 1086.1 620.1 1084.4C620.2 1082.7 620.4 1080.8 620.6 1078.9C620.7 1077.0 620.9 1074.9 621.1 1073.0C621.2 1071.0 621.4 1069.0 621.6 1067.1C621.7 1065.2 621.9 1063.2 622.1 1061.5C622.2 1059.7 622.4 1058.0 622.6 1056.5C622.7 1055.0 622.9 1053.6 623.1 1052.3C623.2 1051.1 623.4 1050.0 623.6 1049.0C623.7 1048.0 623.9 1047.1 624.1 1046.4C624.2 1045.6 624.4 1045.0 624.6 1044.4C624.7 1043.8 624.9 1043.3 625.1 1042.9C625.2 1042.5 625.4 1042.1 625.6 1041.8C625.7 1041.5 625.9 1041.3 626.1 1041.0C626.2 1040.8 626.4 1040.7 626.6 1040.5C626.7 1040.4 626.9 1040.3 627.1 1040.2C627.2 1040.2 627.1 1046.0 627.5 1040.1C628.4 1034.3 631.0 1014.7 632.5 1005.3C634.1 995.8 635.4 990.8 636.9 983.5C638.4 976.2 639.4 970.7 641.3 961.7C643.1 952.7 646.5 941.4 648.1 929.4C649.7 917.5 650.0 902.5 651.1 890.1C652.1 877.7 653.1 865.6 654.4 855.1C655.8 844.7 657.5 834.4 659.1 827.4C660.6 820.5 662.2 816.7 663.8 813.6C665.3 810.5 667.0 808.8 668.6 808.8C670.1 808.8 671.7 811.1 673.2 813.6C674.7 816.1 676.4 817.8 677.6 823.8C678.8 829.7 679.2 840.2 680.2 849.3C681.3 858.4 682.6 869.2 683.9 878.4C685.1 887.7 686.4 893.7 687.5 904.7C688.6 915.6 689.4 930.2 690.4 944.0C691.4 957.9 692.4 973.2 693.3 987.7C694.3 1002.3 695.2 1016.6 696.2 1031.4C697.3 1046.2 698.3 1063.5 699.4 1076.6C700.6 1089.6 701.7 1100.5 703.3 1109.6C704.9 1118.7 707.2 1123.5 709.1 1131.0C711.1 1138.4 713.4 1145.5 715.0 1154.3C716.6 1163.0 717.6 1173.7 718.9 1183.4C720.2 1193.2 721.4 1203.8 722.7 1212.6C724.0 1221.3 725.0 1230.7 726.6 1235.9C728.2 1241.1 730.2 1240.4 732.5 1243.7C734.7 1246.9 738.3 1250.1 740.2 1255.3C742.2 1260.5 742.8 1268.3 744.1 1274.8C745.4 1281.2 746.5 1288.4 748.0 1294.2C749.5 1300.0 750.6 1306.2 752.9 1309.7C755.1 1313.3 759.2 1313.3 761.6 1315.6C764.0 1317.8 765.7 1319.4 767.4 1323.3C769.2 1327.2 770.7 1334.0 772.3 1338.9C773.9 1343.7 775.0 1349.2 777.1 1352.5C779.3 1355.7 781.7 1356.7 784.9 1358.3C788.2 1359.9 791.4 1360.7 796.6 1362.2C801.8 1363.6 810.2 1366.4 816.0 1367.0C821.8 1367.7 826.7 1367.2 831.5 1366.1C836.4 1364.9 841.3 1362.2 845.1 1360.2C849.0 1358.3 851.9 1358.0 854.9 1354.4C857.8 1350.9 859.7 1344.7 862.6 1338.9C865.5 1333.0 869.4 1325.9 872.3 1319.4C875.3 1313.0 877.9 1308.1 880.1 1300.0C882.4 1291.9 884.0 1282.2 886.0 1270.9C887.9 1259.5 889.8 1245.0 891.8 1232.0C893.7 1219.1 895.8 1206.1 897.6 1193.2C899.4 1180.2 900.8 1167.2 902.5 1154.3C904.1 1141.3 905.7 1128.4 907.3 1115.4C908.9 1102.5 910.6 1089.5 912.2 1076.6C913.8 1063.6 915.3 1048.7 917.0 1037.7C918.8 1026.7 920.9 1017.3 922.9 1010.5C924.8 1003.7 926.8 999.9 928.7 996.9C930.6 993.9 932.6 992.5 934.5 992.6C936.5 992.8 938.4 994.3 940.4 997.9C942.3 1001.5 944.4 1007.1 946.2 1014.4C948.0 1021.7 949.4 1031.2 951.0 1041.6C952.7 1052.0 954.3 1064.3 955.9 1076.6C957.5 1088.9 959.3 1102.5 960.8 1115.4C962.2 1128.4 963.3 1141.3 964.6 1154.3C965.9 1167.2 967.2 1180.2 968.5 1193.2C969.8 1206.1 971.0 1219.1 972.4 1232.0C973.9 1245.0 975.6 1258.7 977.3 1270.9C978.9 1283.1 980.4 1294.6 982.3 1305.1C984.3 1315.7 986.7 1325.2 989.1 1334.3C991.6 1343.4 994.0 1351.5 996.9 1359.6C999.8 1367.6 1003.1 1375.4 1006.6 1382.9C1010.2 1390.3 1014.1 1397.8 1018.3 1404.2C1022.5 1410.7 1027.0 1416.2 1031.9 1421.7C1036.7 1427.2 1042.3 1432.7 1047.4 1437.3C1052.6 1441.8 1057.8 1445.7 1063.0 1448.9C1068.2 1452.2 1073.3 1454.4 1078.5 1456.7C1083.7 1459.0 1089.2 1461.2 1094.1 1462.5C1098.9 1463.9 1103.5 1464.5 1107.7 1464.9C1111.9 1465.2 1115.4 1465.2 1119.3 1464.5C1123.2 1463.8 1127.4 1462.5 1131.0 1460.6C1134.5 1458.6 1137.8 1456.4 1140.7 1452.8C1143.6 1449.2 1146.2 1444.4 1148.5 1439.2C1150.7 1434.0 1152.7 1428.5 1154.3 1421.7C1155.9 1414.9 1156.9 1406.5 1158.2 1398.4C1159.5 1390.3 1160.8 1382.2 1162.1 1373.2C1163.4 1364.1 1164.7 1353.7 1166.0 1344.0C1167.2 1334.3 1168.5 1324.6 1169.8 1314.9C1171.1 1305.1 1172.3 1295.4 1173.7 1285.7C1175.2 1276.0 1177.0 1265.3 1178.6 1256.6C1180.2 1247.8 1181.7 1240.1 1183.4 1233.3C1185.2 1226.5 1187.0 1220.3 1189.3 1215.8C1191.5 1211.2 1194.4 1208.1 1197.0 1206.1C1199.6 1204.1 1202.2 1203.2 1204.8 1203.7C1207.4 1204.2 1210.2 1205.7 1212.6 1209.0C1215.0 1212.3 1217.3 1217.9 1219.4 1223.5C1221.5 1229.2 1223.4 1235.9 1225.2 1243.0C1227.0 1250.1 1228.4 1257.5 1230.1 1266.3C1231.7 1275.0 1233.3 1285.7 1234.9 1295.4C1236.5 1305.1 1238.3 1314.9 1239.8 1324.6C1241.2 1334.3 1242.2 1344.0 1243.7 1353.7C1245.1 1363.4 1246.7 1373.8 1248.5 1382.9C1250.3 1391.9 1251.6 1398.4 1254.4 1408.1C1257.1 1417.9 1261.4 1432.6 1265.2 1441.4C1268.9 1450.1 1272.3 1455.2 1276.8 1460.7C1281.3 1466.2 1286.5 1470.4 1292.3 1474.3C1298.1 1478.2 1304.9 1481.1 1311.7 1484.0C1318.5 1486.9 1325.9 1489.5 1333.0 1491.7C1340.1 1494.0 1347.5 1495.8 1354.3 1497.5C1361.1 1499.3 1367.5 1501.2 1373.7 1502.4C1379.8 1503.5 1385.6 1504.1 1391.1 1504.3C1396.6 1504.5 1402.1 1504.4 1406.6 1503.7C1411.1 1503.1 1414.7 1502.1 1418.2 1500.4C1421.8 1498.8 1425.0 1496.4 1427.9 1493.7C1430.8 1490.9 1433.1 1487.8 1435.6 1484.0C1438.2 1480.1 1440.8 1475.6 1443.4 1470.4C1446.0 1465.2 1448.6 1458.5 1451.1 1453.0C1453.7 1447.5 1456.3 1441.7 1458.9 1437.5C1461.5 1433.3 1464.1 1430.1 1466.6 1427.8C1469.2 1425.5 1471.8 1424.6 1474.4 1423.9C1477.0 1423.3 1479.5 1423.3 1482.1 1423.9C1484.7 1424.6 1487.3 1425.2 1489.9 1427.8C1492.5 1430.4 1495.2 1435.3 1497.6 1439.4C1500.0 1443.5 1501.5 1447.3 1504.2 1452.5C1506.9 1457.7 1510.6 1464.6 1513.8 1470.9C1517.0 1477.2 1520.3 1484.7 1523.5 1490.3C1526.7 1495.9 1530.0 1501.0 1532.9 1504.3C1535.9 1507.6 1538.3 1508.1 1541.2 1509.9C1544.1 1511.7 1547.2 1513.7 1550.2 1515.1C1553.2 1516.5 1556.2 1517.4 1559.2 1518.2C1562.2 1519.0 1563.8 1519.4 1568.5 1520.1C1573.2 1520.8 1582.5 1521.7 1587.3 1522.3C1592.1 1522.9 1590.9 1523.3 1597.5 1523.7C1604.0 1524.1 1616.9 1524.5 1626.5 1524.6C1636.2 1524.8 1647.5 1524.8 1655.6 1524.6C1663.7 1524.5 1668.5 1524.3 1675.0 1523.7C1681.4 1523.0 1687.9 1522.1 1694.3 1520.8C1700.8 1519.5 1707.9 1517.6 1713.7 1515.9C1719.5 1514.3 1724.0 1512.1 1729.2 1510.7C1734.4 1509.3 1740.7 1508.3 1744.7 1507.6C1748.7 1506.9 1750.5 1506.7 1753.4 1506.6C1756.3 1506.6 1759.1 1506.5 1762.1 1507.2C1765.2 1507.9 1768.6 1509.2 1771.8 1510.7C1775.0 1512.2 1779.9 1515.1 1781.5 1515.9" fill="none" stroke="#ff0000" stroke-width="8.8" stroke-linejoin="round" stroke-linecap="round"/>
</g>
<g>
<g><use href="#ci" x="417.5" y="1304.0"/><use href="#ci" x="421.2" y="1305.3"/><use href="#ci" x="424.9" y="1306.6"/><use href="#ci" x="428.6" y="1307.9"/><use href="#ci" x="433.1" y="1308.0"/><use href="#ci" x="437.7" y="1308.2"/><use href="#ci" x="442.2" y="1308.3"/><use href="#ci" x="445.8" y="1310.1"/><use href="#ci" x="449.3" y="1311.9"/><use href="#ci" x="452.9" y="1313.7"/><use href="#ci" x="457.8" y="1315.2"/><use href="#ci" x="462.6" y="1316.6"/><use href="#ci" x="466.8" y="1316.3"/><use href="#ci" x="471.0" y="1316.0"/><use href="#ci" x="475.2" y="1315.7"/><use href="#ci" x="480.0" y="1317.6"/><use href="#ci" x="484.9" y="1319.5"/><use href="#ci" x="488.3" y="1322.0"/><use href="#ci" x="491.7" y="1324.4"/><use href="#ci" x="496.6" y="1329.8"/><use href="#ci" x="500.8" y="1361.3"/><use href="#ci" x="504.7" y="1410.3"/><use href="#ci" x="508.6" y="1453.6"/><use href="#ci" x="513.1" y="1478.3"/><use href="#ci" x="517.0" y="1504.7"/><use href="#ci" x="521.2" y="1519.7"/><use href="#ci" x="525.7" y="1538.7"/><use href="#ci" x="529.6" y="1558.1"/><use href="#ci" x="533.9" y="1569.8"/><use href="#ci" x="537.8" y="1588.6"/><use href="#ci" x="541.6" y="1598.3"/><use href="#ci" x="542.4" y="1607.1"/><use href="#ci" x="553.9" y="1650.8"/><use href="#ci" x="566.5" y="1696.4"/><use href="#ci" x="578.9" y="1736.4"/><use href="#ci" x="591.5" y="1759.1"/><use href="#ci" x="604.1" y="1779.5"/><use href="#ci" x="615.8" y="1792.1"/><use href="#ci" x="628.4" y="1813.5"/><use href="#ci" x="641.4" y="1832.9"/><use href="#ci" x="653.7" y="1856.2"/><use href="#ci" x="666.3" y="1873.7"/><use href="#ci" x="665.9" y="1880.5"/><use href="#ci" x="681.8" y="1895.1"/><use href="#ci" x="698.3" y="1908.7"/><use href="#ci" x="715.8" y="1924.2"/><use href="#ci" x="731.4" y="1933.9"/><use href="#ci" x="747.9" y="1944.6"/><use href="#ci" x="764.4" y="1959.2"/><use href="#ci" x="780.9" y="1967.0"/><use href="#ci" x="797.4" y="1965.0"/><use href="#ci" x="813.9" y="1969.9"/><use href="#ci" x="830.7" y="1971.3"/><use href="#ci" x="847.3" y="1972.6"/><use href="#ci" x="864.2" y="1981.3"/><use href="#ci" x="881.0" y="1977.5"/><use href="#ci" x="897.9" y="1983.3"/><use href="#ci" x="914.4" y="1973.1"/><use href="#ci" x="935.6" y="1963.0"/><use href="#ci" x="956.6" y="1955.1"/><use href="#ci" x="976.9" y="1945.5"/><use href="#ci" x="998.1" y="1909.2"/><use href="#ci" x="1018.2" y="1840.9"/><use href="#ci" x="1039.4" y="1783.7"/><use href="#ci" x="1059.7" y="1750.8"/><use href="#ci" x="1080.6" y="1734.9"/><use href="#ci" x="1101.0" y="1727.6"/><use href="#ci" x="1122.2" y="1735.4"/><use href="#ci" x="1143.1" y="1752.9"/><use href="#ci" x="1163.4" y="1774.1"/><use href="#ci" x="1184.1" y="1797.3"/><use href="#ci" x="1205.0" y="1825.8"/><use href="#ci" x="1225.4" y="1867.1"/><use href="#ci" x="1246.1" y="1904.1"/><use href="#ci" x="1267.2" y="1966.2"/><use href="#ci" x="1287.5" y="1993.7"/><use href="#ci" x="1308.0" y="2024.6"/><use href="#ci" x="1328.3" y="2037.3"/><use href="#ci" x="1349.3" y="2039.6"/><use href="#ci" x="1370.1" y="2061.5"/><use href="#ci" x="1390.8" y="2065.3"/><use href="#ci" x="1411.0" y="2074.5"/><use href="#ci" x="1432.0" y="2095.5"/><use href="#ci" x="1452.4" y="2093.8"/><use href="#ci" x="1452.4" y="2099.8"/><use href="#ci" x="1535.6" y="2106.1"/><use href="#ci" x="1618.1" y="2119.1"/><use href="#ci" x="1701.3" y="2133.1"/><use href="#ci" x="1784.2" y="2133.1"/></g>
<path d="M418.0 1305.0C420.0 1305.4 426.0 1306.8 430.0 1307.5C434.0 1308.2 438.2 1308.1 442.0 1309.0C445.8 1309.9 449.5 1311.8 453.0 1313.0C456.5 1314.2 459.3 1315.4 463.0 1316.0C466.7 1316.6 471.3 1315.9 475.0 1316.5C478.7 1317.1 482.3 1318.2 485.0 1319.5C487.7 1320.8 489.2 1321.9 491.0 1324.0C492.8 1326.1 494.2 1328.0 495.5 1332.0C496.8 1336.0 497.4 1341.9 498.5 1347.7C499.6 1353.6 500.9 1360.7 502.0 1367.1C503.1 1373.6 504.3 1380.1 505.3 1386.6C506.4 1393.1 507.2 1399.5 508.2 1406.0C509.3 1412.5 510.6 1419.0 511.5 1425.4C512.5 1431.9 513.3 1438.4 514.1 1444.9C514.9 1451.3 515.6 1457.8 516.4 1464.3C517.2 1470.8 518.1 1477.2 518.9 1483.7C519.8 1490.2 520.5 1496.7 521.4 1503.2C522.4 1509.6 523.5 1516.1 524.7 1522.6C525.9 1529.1 527.3 1535.5 528.6 1542.0C529.9 1548.5 531.1 1555.0 532.5 1561.4C533.9 1567.9 535.4 1574.4 537.0 1580.9C538.6 1587.3 540.6 1593.8 542.2 1600.3C543.9 1606.8 545.5 1613.3 547.1 1619.7C548.7 1626.2 550.2 1632.7 551.9 1639.2C553.7 1645.6 555.8 1652.1 557.8 1658.6C559.7 1665.1 562.0 1672.9 563.6 1678.0C565.2 1683.1 565.6 1682.4 567.2 1689.1C568.8 1695.9 571.1 1709.5 573.0 1718.3C575.0 1727.0 576.6 1734.5 578.9 1741.6C581.1 1748.7 583.7 1754.9 586.6 1761.0C589.5 1767.2 592.5 1773.0 596.3 1778.5C600.2 1784.0 605.4 1789.5 609.9 1794.1C614.5 1798.6 619.5 1801.8 623.5 1805.7C627.6 1809.6 631.0 1813.0 634.2 1817.4C637.5 1821.7 640.1 1826.9 643.0 1831.9C645.9 1837.0 648.8 1842.3 651.7 1847.5C654.6 1852.7 657.1 1858.2 660.5 1863.0C663.9 1867.9 668.2 1872.9 672.1 1876.6C676.0 1880.4 679.9 1883.0 683.8 1885.4C687.7 1887.8 691.9 1889.3 695.4 1891.2C699.0 1893.1 701.9 1894.3 705.1 1896.6C708.4 1899.0 711.3 1901.8 714.9 1905.2C718.4 1908.6 722.6 1913.0 726.5 1916.9C730.4 1920.7 734.3 1924.6 738.2 1928.1C742.1 1931.6 745.6 1934.9 749.8 1937.8C754.0 1940.8 758.6 1943.2 763.4 1945.6C768.3 1948.0 773.5 1950.1 779.0 1952.4C784.5 1954.7 791.0 1957.2 796.5 1959.2C802.0 1961.3 806.2 1963.0 812.0 1964.7C817.8 1966.3 825.3 1967.1 831.4 1968.9C837.6 1970.7 841.3 1974.0 849.1 1975.4C856.8 1976.9 869.4 1977.7 878.1 1977.8C886.8 1977.9 894.6 1977.3 901.4 1976.0C908.1 1974.8 913.0 1972.9 918.8 1970.2C924.6 1967.6 930.9 1963.9 936.2 1960.0C941.5 1956.2 945.9 1952.5 950.8 1947.0C955.6 1941.4 960.4 1934.4 965.3 1926.6C970.1 1918.9 975.0 1909.7 979.8 1900.5C984.6 1891.3 989.5 1881.1 994.3 1871.4C999.2 1861.7 1004.0 1851.6 1008.9 1842.4C1013.7 1833.2 1018.5 1824.2 1023.4 1816.2C1028.2 1808.2 1033.1 1801.0 1037.9 1794.4C1042.8 1787.9 1047.6 1781.8 1052.4 1777.0C1057.3 1772.2 1062.1 1768.5 1067.0 1765.4C1071.8 1762.2 1076.7 1759.9 1081.5 1758.1C1086.3 1756.3 1091.2 1755.3 1096.0 1754.6C1100.9 1753.9 1105.6 1753.7 1110.6 1754.0C1115.5 1754.4 1120.6 1755.0 1125.7 1756.7C1130.7 1758.3 1135.7 1760.8 1140.8 1763.9C1145.8 1767.1 1150.8 1771.2 1155.9 1775.5C1160.9 1779.9 1165.9 1784.7 1171.0 1790.1C1176.1 1795.4 1180.3 1799.3 1186.7 1807.5C1193.0 1815.7 1201.9 1828.1 1209.1 1839.2C1216.2 1850.3 1222.6 1862.2 1229.4 1874.1C1236.2 1886.0 1244.5 1901.3 1249.7 1910.4C1254.9 1919.5 1257.2 1922.8 1260.6 1928.6C1264.0 1934.4 1266.8 1939.3 1270.1 1945.3C1273.3 1951.2 1276.9 1957.9 1280.2 1964.2C1283.6 1970.5 1287.0 1977.0 1290.4 1983.1C1293.8 1989.1 1297.2 1994.9 1300.6 2000.5C1304.0 2006.1 1307.1 2011.1 1310.8 2016.5C1314.4 2021.8 1318.5 2027.4 1322.4 2032.4C1326.2 2037.5 1331.1 2043.2 1334.0 2047.0C1336.9 2050.8 1336.8 2051.7 1340.0 2055.3C1343.2 2059.0 1348.9 2064.6 1353.3 2068.9C1357.8 2073.2 1362.2 2077.7 1366.6 2081.3C1371.1 2084.9 1375.5 2087.7 1380.0 2090.6C1384.4 2093.5 1388.8 2096.1 1393.3 2098.6C1397.7 2101.0 1402.1 2103.2 1406.6 2105.2C1411.0 2107.2 1415.5 2108.9 1419.9 2110.6C1424.3 2112.2 1428.8 2113.8 1433.2 2115.2C1437.7 2116.6 1442.1 2117.8 1446.5 2119.0C1451.0 2120.1 1455.4 2121.0 1459.9 2121.9C1464.3 2122.8 1468.7 2123.6 1473.2 2124.3C1477.6 2125.0 1482.1 2125.6 1486.5 2126.2C1490.9 2126.7 1495.4 2127.3 1499.8 2127.9C1504.2 2128.4 1508.7 2129.0 1513.1 2129.5C1517.6 2129.9 1522.0 2130.3 1526.4 2130.7C1530.9 2131.0 1534.2 2131.3 1539.8 2131.6C1545.4 2131.9 1554.0 2132.2 1560.0 2132.3C1566.0 2132.4 1567.5 2132.1 1576.0 2132.1C1584.5 2132.0 1599.4 2132.4 1611.1 2132.1C1622.8 2131.7 1634.5 2130.9 1646.2 2130.0C1657.9 2129.0 1669.6 2127.6 1681.3 2126.4C1693.0 2125.3 1704.7 2123.9 1716.4 2122.9C1728.1 2121.9 1740.0 2121.2 1751.5 2120.5C1763.1 2119.7 1779.9 2118.7 1785.6 2118.4" fill="none" stroke="#800000" stroke-width="9.0" stroke-linejoin="round" stroke-linecap="butt"/>
</g>
<rect x="1009.4" y="85.8" width="767.6" height="365.4" fill="#fff" stroke="#000" stroke-width="3"/>
<rect x="1100" y="150" width="19" height="20" fill="#0000ff"/>
<use href="#st" x="1109.5" y="270.3"/>
<use href="#ci" x="1110" y="379.5"/>
<g font-size="89.3px">
<text x="1235.5" y="191">20°C, pH = 5</text>
<text x="1235.5" y="300.3">38°C, pH = 5</text>
<text x="1235.5" y="409.5">38°C, pH = 9</text>
</g>
<g stroke="#000" fill="none" stroke-width="6.7">
<line x1="376.5" y1="24.4" x2="376.5" y2="2214.3"/>
<line x1="1829.1" y1="21.0" x2="1829.1" y2="2217.7" stroke-width="5.8"/>
<line x1="376.5" y1="24.4" x2="1832.0" y2="24.4"/>
<line x1="376.5" y1="2214.3" x2="1832.0" y2="2214.3"/>
</g>
<g stroke="#000" fill="none" stroke-width="6.2" stroke-linecap="round">
<line x1="376.5" y1="24.4" x2="361.4" y2="24.4" stroke-width="6.7"/>
<line x1="376.5" y1="2214.3" x2="376.5" y2="2244.8" stroke-width="6.7"/>
<line x1="596.6" y1="2214.3" x2="596.6" y2="2230.1"/>
<line x1="596.6" y1="24.4" x2="596.6" y2="39.1"/>
<line x1="816.7" y1="2214.3" x2="816.7" y2="2245.1"/>
<line x1="816.7" y1="24.4" x2="816.7" y2="54.9"/>
<line x1="1036.8" y1="2214.3" x2="1036.8" y2="2230.1"/>
<line x1="1036.8" y1="24.4" x2="1036.8" y2="39.1"/>
<line x1="1256.9" y1="2214.3" x2="1256.9" y2="2245.1"/>
<line x1="1256.9" y1="24.4" x2="1256.9" y2="54.9"/>
<line x1="1477.0" y1="2214.3" x2="1477.0" y2="2230.1"/>
<line x1="1477.0" y1="24.4" x2="1477.0" y2="39.1"/>
<line x1="1697.1" y1="2214.3" x2="1697.1" y2="2245.1"/>
<line x1="1697.1" y1="24.4" x2="1697.1" y2="54.9"/>
<line x1="376.5" y1="85.9" x2="345.3" y2="85.9"/>
<line x1="1829.0" y1="85.9" x2="1798.3" y2="85.9"/>
<line x1="376.5" y1="290.6" x2="345.3" y2="290.6"/>
<line x1="1829.0" y1="290.6" x2="1798.3" y2="290.6"/>
<line x1="376.5" y1="495.3" x2="345.3" y2="495.3"/>
<line x1="1829.0" y1="495.3" x2="1798.3" y2="495.3"/>
<line x1="376.5" y1="700.1" x2="345.3" y2="700.1"/>
<line x1="1829.0" y1="700.1" x2="1798.3" y2="700.1"/>
<line x1="376.5" y1="904.8" x2="345.3" y2="904.8"/>
<line x1="1829.0" y1="904.8" x2="1798.3" y2="904.8"/>
<line x1="376.5" y1="1109.5" x2="345.3" y2="1109.5"/>
<line x1="1829.0" y1="1109.5" x2="1798.3" y2="1109.5"/>
<line x1="376.5" y1="1314.2" x2="345.3" y2="1314.2"/>
<line x1="1829.0" y1="1314.2" x2="1798.3" y2="1314.2"/>
<line x1="376.5" y1="1518.9" x2="345.3" y2="1518.9"/>
<line x1="1829.0" y1="1518.9" x2="1798.3" y2="1518.9"/>
<line x1="376.5" y1="1723.7" x2="345.3" y2="1723.7"/>
<line x1="1829.0" y1="1723.7" x2="1798.3" y2="1723.7"/>
<line x1="376.5" y1="1928.4" x2="345.3" y2="1928.4"/>
<line x1="1829.0" y1="1928.4" x2="1798.3" y2="1928.4"/>
<line x1="376.5" y1="2133.1" x2="345.3" y2="2133.1"/>
<line x1="1829.0" y1="2133.1" x2="1798.3" y2="2133.1"/>
<line x1="376.5" y1="229.0" x2="361.3" y2="229.0"/>
<line x1="1829.0" y1="229.0" x2="1814.1" y2="229.0"/>
<line x1="376.5" y1="192.9" x2="361.3" y2="192.9"/>
<line x1="1829.0" y1="192.9" x2="1814.1" y2="192.9"/>
<line x1="376.5" y1="167.4" x2="361.3" y2="167.4"/>
<line x1="1829.0" y1="167.4" x2="1814.1" y2="167.4"/>
<line x1="376.5" y1="147.5" x2="361.3" y2="147.5"/>
<line x1="1829.0" y1="147.5" x2="1814.1" y2="147.5"/>
<line x1="376.5" y1="131.3" x2="361.3" y2="131.3"/>
<line x1="1829.0" y1="131.3" x2="1814.1" y2="131.3"/>
<line x1="376.5" y1="117.6" x2="361.3" y2="117.6"/>
<line x1="1829.0" y1="117.6" x2="1814.1" y2="117.6"/>
<line x1="376.5" y1="105.7" x2="361.3" y2="105.7"/>
<line x1="1829.0" y1="105.7" x2="1814.1" y2="105.7"/>
<line x1="376.5" y1="95.3" x2="361.3" y2="95.3"/>
<line x1="1829.0" y1="95.3" x2="1814.1" y2="95.3"/>
<line x1="376.5" y1="433.7" x2="361.3" y2="433.7"/>
<line x1="1829.0" y1="433.7" x2="1814.1" y2="433.7"/>
<line x1="376.5" y1="397.7" x2="361.3" y2="397.7"/>
<line x1="1829.0" y1="397.7" x2="1814.1" y2="397.7"/>
<line x1="376.5" y1="372.1" x2="361.3" y2="372.1"/>
<line x1="1829.0" y1="372.1" x2="1814.1" y2="372.1"/>
<line x1="376.5" y1="352.2" x2="361.3" y2="352.2"/>
<line x1="1829.0" y1="352.2" x2="1814.1" y2="352.2"/>
<line x1="376.5" y1="336.0" x2="361.3" y2="336.0"/>
<line x1="1829.0" y1="336.0" x2="1814.1" y2="336.0"/>
<line x1="376.5" y1="322.3" x2="361.3" y2="322.3"/>
<line x1="1829.0" y1="322.3" x2="1814.1" y2="322.3"/>
<line x1="376.5" y1="310.5" x2="361.3" y2="310.5"/>
<line x1="1829.0" y1="310.5" x2="1814.1" y2="310.5"/>
<line x1="376.5" y1="300.0" x2="361.3" y2="300.0"/>
<line x1="1829.0" y1="300.0" x2="1814.1" y2="300.0"/>
<line x1="376.5" y1="638.4" x2="361.3" y2="638.4"/>
<line x1="1829.0" y1="638.4" x2="1814.1" y2="638.4"/>
<line x1="376.5" y1="602.4" x2="361.3" y2="602.4"/>
<line x1="1829.0" y1="602.4" x2="1814.1" y2="602.4"/>
<line x1="376.5" y1="576.8" x2="361.3" y2="576.8"/>
<line x1="1829.0" y1="576.8" x2="1814.1" y2="576.8"/>
<line x1="376.5" y1="557.0" x2="361.3" y2="557.0"/>
<line x1="1829.0" y1="557.0" x2="1814.1" y2="557.0"/>
<line x1="376.5" y1="540.8" x2="361.3" y2="540.8"/>
<line x1="1829.0" y1="540.8" x2="1814.1" y2="540.8"/>
<line x1="376.5" y1="527.1" x2="361.3" y2="527.1"/>
<line x1="1829.0" y1="527.1" x2="1814.1" y2="527.1"/>
<line x1="376.5" y1="515.2" x2="361.3" y2="515.2"/>
<line x1="1829.0" y1="515.2" x2="1814.1" y2="515.2"/>
<line x1="376.5" y1="504.7" x2="361.3" y2="504.7"/>
<line x1="1829.0" y1="504.7" x2="1814.1" y2="504.7"/>
<line x1="376.5" y1="843.2" x2="361.3" y2="843.2"/>
<line x1="1829.0" y1="843.2" x2="1814.1" y2="843.2"/>
<line x1="376.5" y1="807.1" x2="361.3" y2="807.1"/>
<line x1="1829.0" y1="807.1" x2="1814.1" y2="807.1"/>
<line x1="376.5" y1="781.5" x2="361.3" y2="781.5"/>
<line x1="1829.0" y1="781.5" x2="1814.1" y2="781.5"/>
<line x1="376.5" y1="761.7" x2="361.3" y2="761.7"/>
<line x1="1829.0" y1="761.7" x2="1814.1" y2="761.7"/>
<line x1="376.5" y1="745.5" x2="361.3" y2="745.5"/>
<line x1="1829.0" y1="745.5" x2="1814.1" y2="745.5"/>
<line x1="376.5" y1="731.8" x2="361.3" y2="731.8"/>
<line x1="1829.0" y1="731.8" x2="1814.1" y2="731.8"/>
<line x1="376.5" y1="719.9" x2="361.3" y2="719.9"/>
<line x1="1829.0" y1="719.9" x2="1814.1" y2="719.9"/>
<line x1="376.5" y1="709.4" x2="361.3" y2="709.4"/>
<line x1="1829.0" y1="709.4" x2="1814.1" y2="709.4"/>
<line x1="376.5" y1="1047.9" x2="361.3" y2="1047.9"/>
<line x1="1829.0" y1="1047.9" x2="1814.1" y2="1047.9"/>
<line x1="376.5" y1="1011.8" x2="361.3" y2="1011.8"/>
<line x1="1829.0" y1="1011.8" x2="1814.1" y2="1011.8"/>
<line x1="376.5" y1="986.2" x2="361.3" y2="986.2"/>
<line x1="1829.0" y1="986.2" x2="1814.1" y2="986.2"/>
<line x1="376.5" y1="966.4" x2="361.3" y2="966.4"/>
<line x1="1829.0" y1="966.4" x2="1814.1" y2="966.4"/>
<line x1="376.5" y1="950.2" x2="361.3" y2="950.2"/>
<line x1="1829.0" y1="950.2" x2="1814.1" y2="950.2"/>
<line x1="376.5" y1="936.5" x2="361.3" y2="936.5"/>
<line x1="1829.0" y1="936.5" x2="1814.1" y2="936.5"/>
<line x1="376.5" y1="924.6" x2="361.3" y2="924.6"/>
<line x1="1829.0" y1="924.6" x2="1814.1" y2="924.6"/>
<line x1="376.5" y1="914.1" x2="361.3" y2="914.1"/>
<line x1="1829.0" y1="914.1" x2="1814.1" y2="914.1"/>
<line x1="376.5" y1="1252.6" x2="361.3" y2="1252.6"/>
<line x1="1829.0" y1="1252.6" x2="1814.1" y2="1252.6"/>
<line x1="376.5" y1="1216.5" x2="361.3" y2="1216.5"/>
<line x1="1829.0" y1="1216.5" x2="1814.1" y2="1216.5"/>
<line x1="376.5" y1="1191.0" x2="361.3" y2="1191.0"/>
<line x1="1829.0" y1="1191.0" x2="1814.1" y2="1191.0"/>
<line x1="376.5" y1="1171.1" x2="361.3" y2="1171.1"/>
<line x1="1829.0" y1="1171.1" x2="1814.1" y2="1171.1"/>
<line x1="376.5" y1="1154.9" x2="361.3" y2="1154.9"/>
<line x1="1829.0" y1="1154.9" x2="1814.1" y2="1154.9"/>
<line x1="376.5" y1="1141.2" x2="361.3" y2="1141.2"/>
<line x1="1829.0" y1="1141.2" x2="1814.1" y2="1141.2"/>
<line x1="376.5" y1="1129.3" x2="361.3" y2="1129.3"/>
<line x1="1829.0" y1="1129.3" x2="1814.1" y2="1129.3"/>
<line x1="376.5" y1="1118.9" x2="361.3" y2="1118.9"/>
<line x1="1829.0" y1="1118.9" x2="1814.1" y2="1118.9"/>
<line x1="376.5" y1="1457.3" x2="361.3" y2="1457.3"/>
<line x1="1829.0" y1="1457.3" x2="1814.1" y2="1457.3"/>
<line x1="376.5" y1="1421.3" x2="361.3" y2="1421.3"/>
<line x1="1829.0" y1="1421.3" x2="1814.1" y2="1421.3"/>
<line x1="376.5" y1="1395.7" x2="361.3" y2="1395.7"/>
<line x1="1829.0" y1="1395.7" x2="1814.1" y2="1395.7"/>
<line x1="376.5" y1="1375.8" x2="361.3" y2="1375.8"/>
<line x1="1829.0" y1="1375.8" x2="1814.1" y2="1375.8"/>
<line x1="376.5" y1="1359.6" x2="361.3" y2="1359.6"/>
<line x1="1829.0" y1="1359.6" x2="1814.1" y2="1359.6"/>
<line x1="376.5" y1="1345.9" x2="361.3" y2="1345.9"/>
<line x1="1829.0" y1="1345.9" x2="1814.1" y2="1345.9"/>
<line x1="376.5" y1="1334.1" x2="361.3" y2="1334.1"/>
<line x1="1829.0" y1="1334.1" x2="1814.1" y2="1334.1"/>
<line x1="376.5" y1="1323.6" x2="361.3" y2="1323.6"/>
<line x1="1829.0" y1="1323.6" x2="1814.1" y2="1323.6"/>
<line x1="376.5" y1="1662.0" x2="361.3" y2="1662.0"/>
<line x1="1829.0" y1="1662.0" x2="1814.1" y2="1662.0"/>
<line x1="376.5" y1="1626.0" x2="361.3" y2="1626.0"/>
<line x1="1829.0" y1="1626.0" x2="1814.1" y2="1626.0"/>
<line x1="376.5" y1="1600.4" x2="361.3" y2="1600.4"/>
<line x1="1829.0" y1="1600.4" x2="1814.1" y2="1600.4"/>
<line x1="376.5" y1="1580.6" x2="361.3" y2="1580.6"/>
<line x1="1829.0" y1="1580.6" x2="1814.1" y2="1580.6"/>
<line x1="376.5" y1="1564.4" x2="361.3" y2="1564.4"/>
<line x1="1829.0" y1="1564.4" x2="1814.1" y2="1564.4"/>
<line x1="376.5" y1="1550.7" x2="361.3" y2="1550.7"/>
<line x1="1829.0" y1="1550.7" x2="1814.1" y2="1550.7"/>
<line x1="376.5" y1="1538.8" x2="361.3" y2="1538.8"/>
<line x1="1829.0" y1="1538.8" x2="1814.1" y2="1538.8"/>
<line x1="376.5" y1="1528.3" x2="361.3" y2="1528.3"/>
<line x1="1829.0" y1="1528.3" x2="1814.1" y2="1528.3"/>
<line x1="376.5" y1="1866.8" x2="361.3" y2="1866.8"/>
<line x1="1829.0" y1="1866.8" x2="1814.1" y2="1866.8"/>
<line x1="376.5" y1="1830.7" x2="361.3" y2="1830.7"/>
<line x1="1829.0" y1="1830.7" x2="1814.1" y2="1830.7"/>
<line x1="376.5" y1="1805.1" x2="361.3" y2="1805.1"/>
<line x1="1829.0" y1="1805.1" x2="1814.1" y2="1805.1"/>
<line x1="376.5" y1="1785.3" x2="361.3" y2="1785.3"/>
<line x1="1829.0" y1="1785.3" x2="1814.1" y2="1785.3"/>
<line x1="376.5" y1="1769.1" x2="361.3" y2="1769.1"/>
<line x1="1829.0" y1="1769.1" x2="1814.1" y2="1769.1"/>
<line x1="376.5" y1="1755.4" x2="361.3" y2="1755.4"/>
<line x1="1829.0" y1="1755.4" x2="1814.1" y2="1755.4"/>
<line x1="376.5" y1="1743.5" x2="361.3" y2="1743.5"/>
<line x1="1829.0" y1="1743.5" x2="1814.1" y2="1743.5"/>
<line x1="376.5" y1="1733.0" x2="361.3" y2="1733.0"/>
<line x1="1829.0" y1="1733.0" x2="1814.1" y2="1733.0"/>
<line x1="376.5" y1="2071.5" x2="361.3" y2="2071.5"/>
<line x1="1829.0" y1="2071.5" x2="1814.1" y2="2071.5"/>
<line x1="376.5" y1="2035.4" x2="361.3" y2="2035.4"/>
<line x1="1829.0" y1="2035.4" x2="1814.1" y2="2035.4"/>
<line x1="376.5" y1="2009.8" x2="361.3" y2="2009.8"/>
<line x1="1829.0" y1="2009.8" x2="1814.1" y2="2009.8"/>
<line x1="376.5" y1="1990.0" x2="361.3" y2="1990.0"/>
<line x1="1829.0" y1="1990.0" x2="1814.1" y2="1990.0"/>
<line x1="376.5" y1="1973.8" x2="361.3" y2="1973.8"/>
<line x1="1829.0" y1="1973.8" x2="1814.1" y2="1973.8"/>
<line x1="376.5" y1="1960.1" x2="361.3" y2="1960.1"/>
<line x1="1829.0" y1="1960.1" x2="1814.1" y2="1960.1"/>
<line x1="376.5" y1="1948.2" x2="361.3" y2="1948.2"/>
<line x1="1829.0" y1="1948.2" x2="1814.1" y2="1948.2"/>
<line x1="376.5" y1="1937.7" x2="361.3" y2="1937.7"/>
<line x1="1829.0" y1="1937.7" x2="1814.1" y2="1937.7"/>
</g>
<g font-size="84px" text-anchor="end">
<text transform="translate(325 118.2) scale(1 1.045)">10<tspan font-size="50px" dy="-43.6">6</tspan></text>
<text transform="translate(325 527.6) scale(1 1.045)">10<tspan font-size="50px" dy="-43.6">4</tspan></text>
<text transform="translate(325 937.1) scale(1 1.045)">10<tspan font-size="50px" dy="-43.6">2</tspan></text>
<text transform="translate(325 1346.5) scale(1 1.045)">10<tspan font-size="50px" dy="-43.6">0</tspan></text>
<text transform="translate(325 1756.0) scale(1 1.045)">10<tspan font-size="50px" dy="-43.6">-2</tspan></text>
<text transform="translate(325 2165.4) scale(1 1.045)">10<tspan font-size="50px" dy="-43.6">-4</tspan></text>
</g>
<g font-size="84px" text-anchor="middle">
<text transform="translate(376.5 2332.8) scale(1 1.045)">0.00</text>
<text transform="translate(816.7 2332.8) scale(1 1.045)">0.05</text>
<text transform="translate(1256.9 2332.8) scale(1 1.045)">0.10</text>
<text transform="translate(1697.1 2332.8) scale(1 1.045)">0.15</text>
</g>
<text font-size="96px" x="901" y="2510.2">Q [Å<tspan font-size="57px" dy="-52.3">-1</tspan><tspan dy="52.3">]</tspan></text>
<text font-size="96.5px" transform="translate(109.6 1495.3) rotate(-90)" x="0" y="0">Neutron Reflectivity</text>
</svg></body></html>
